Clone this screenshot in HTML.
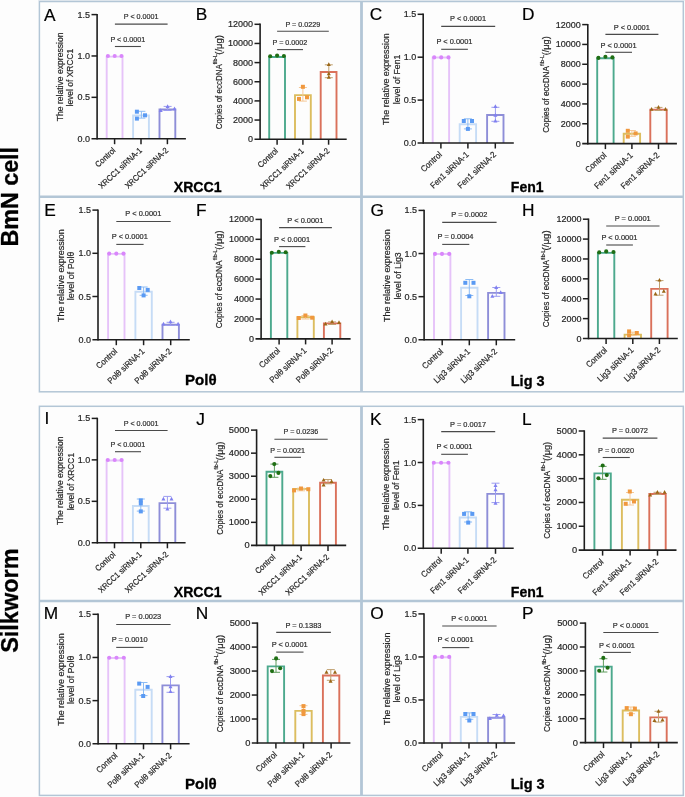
<!DOCTYPE html><html><head><meta charset="utf-8"><style>html,body{margin:0;padding:0;background:#fdfdfd;overflow:hidden}svg{display:block;will-change:transform}text{font-family:"Liberation Sans", sans-serif;}</style></head><body>
<svg width="685" height="797" viewBox="0 0 685 797">
<rect width="685" height="797" fill="#fdfdfd"/>
<rect x="38" y="0" width="647" height="0.8" fill="#e6ecf1"/>
<rect x="39.4" y="1.5" width="643.9" height="390.3" fill="none" stroke="#b3c6d6" stroke-width="1.5"/>
<line x1="39.40" y1="196.80" x2="683.30" y2="196.80" stroke="#b3c6d6" stroke-width="2.4"/>
<line x1="361.50" y1="1.50" x2="361.50" y2="391.80" stroke="#b3c6d6" stroke-width="2.8"/>
<rect x="39.4" y="406.3" width="643.9" height="389.1" fill="none" stroke="#b3c6d6" stroke-width="1.5"/>
<line x1="39.40" y1="601.00" x2="683.30" y2="601.00" stroke="#b3c6d6" stroke-width="2.4"/>
<line x1="361.50" y1="406.30" x2="361.50" y2="795.40" stroke="#b3c6d6" stroke-width="2.8"/>
<text transform="translate(17.90,246.43) rotate(-90)" font-size="23.5" font-weight="bold" fill="#000" stroke="#000" stroke-width="0.3" textLength="99.47" lengthAdjust="spacingAndGlyphs">BmN cell</text>
<text transform="translate(18.30,652.86) rotate(-90)" font-size="23.5" font-weight="bold" fill="#000" stroke="#000" stroke-width="0.3" textLength="104.49" lengthAdjust="spacingAndGlyphs">Silkworm</text>
<path d="M106.70,138.70 V56.60 H122.50 V138.70" fill="none" stroke="#e6c3f9" stroke-width="1.9"/>
<path d="M133.10,138.70 V115.50 H148.90 V138.70" fill="none" stroke="#c6dcf6" stroke-width="1.9"/>
<path d="M159.50,138.70 V109.50 H175.30 V138.70" fill="none" stroke="#8e8ed8" stroke-width="1.9"/>
<line x1="141.40" y1="111.30" x2="141.40" y2="118.10" stroke="#8cbcf5" stroke-width="1.0"/>
<line x1="137.40" y1="111.30" x2="145.40" y2="111.30" stroke="#8cbcf5" stroke-width="1.0"/>
<line x1="137.40" y1="118.10" x2="145.40" y2="118.10" stroke="#8cbcf5" stroke-width="1.0"/>
<line x1="167.60" y1="106.40" x2="167.60" y2="110.50" stroke="#9c9cf0" stroke-width="1.0"/>
<line x1="163.60" y1="106.40" x2="171.60" y2="106.40" stroke="#9c9cf0" stroke-width="1.0"/>
<line x1="163.60" y1="110.50" x2="171.60" y2="110.50" stroke="#9c9cf0" stroke-width="1.0"/>
<circle cx="107.90" cy="56.00" r="2.05" fill="#d986fb"/>
<circle cx="114.70" cy="56.00" r="2.05" fill="#d986fb"/>
<circle cx="121.50" cy="56.00" r="2.05" fill="#d986fb"/>
<rect x="134.90" y="109.70" width="4.00" height="4.00" fill="#5a9af3"/>
<rect x="143.00" y="113.30" width="4.00" height="4.00" fill="#5a9af3"/>
<rect x="134.90" y="116.60" width="4.00" height="4.00" fill="#5a9af3"/>
<polygon points="167.60,104.30 169.60,108.00 165.60,108.00" fill="#8080f0"/>
<polygon points="160.70,108.30 162.70,112.00 158.70,112.00" fill="#8080f0"/>
<polygon points="174.50,106.50 176.50,110.20 172.50,110.20" fill="#8080f0"/>
<line x1="97.10" y1="13.90" x2="97.10" y2="139.50" stroke="#1e1e1e" stroke-width="1.6"/>
<line x1="91.50" y1="138.70" x2="185.90" y2="138.70" stroke="#1e1e1e" stroke-width="1.6"/>
<text x="77.53" y="141.70" font-size="9.0" font-weight="normal" fill="#262626" stroke="#262626" stroke-width="0.2" textLength="12.51" lengthAdjust="spacingAndGlyphs">0.0</text>
<line x1="91.50" y1="97.33" x2="97.10" y2="97.33" stroke="#1e1e1e" stroke-width="1.5"/>
<text x="77.56" y="100.33" font-size="9.0" font-weight="normal" fill="#262626" stroke="#262626" stroke-width="0.2" textLength="12.51" lengthAdjust="spacingAndGlyphs">0.5</text>
<line x1="91.50" y1="55.97" x2="97.10" y2="55.97" stroke="#1e1e1e" stroke-width="1.5"/>
<text x="77.53" y="58.97" font-size="9.0" font-weight="normal" fill="#262626" stroke="#262626" stroke-width="0.2" textLength="12.51" lengthAdjust="spacingAndGlyphs">1.0</text>
<line x1="91.50" y1="14.60" x2="97.10" y2="14.60" stroke="#1e1e1e" stroke-width="1.5"/>
<text x="77.56" y="17.60" font-size="9.0" font-weight="normal" fill="#262626" stroke="#262626" stroke-width="0.2" textLength="12.51" lengthAdjust="spacingAndGlyphs">1.5</text>
<line x1="114.60" y1="138.70" x2="114.60" y2="144.20" stroke="#1e1e1e" stroke-width="1.5"/>
<line x1="141.00" y1="138.70" x2="141.00" y2="144.20" stroke="#1e1e1e" stroke-width="1.5"/>
<line x1="167.40" y1="138.70" x2="167.40" y2="144.20" stroke="#1e1e1e" stroke-width="1.5"/>
<text transform="translate(116.10,151.10) rotate(-43)" font-size="8.28" text-anchor="end" fill="#262626" stroke="#262626" stroke-width="0.2" textLength="24.29" lengthAdjust="spacingAndGlyphs">Control</text>
<text transform="translate(142.50,151.10) rotate(-43)" font-size="8.28" text-anchor="end" fill="#262626" stroke="#262626" stroke-width="0.2" textLength="55.68" lengthAdjust="spacingAndGlyphs">XRCC1 siRNA-1</text>
<text transform="translate(168.90,151.10) rotate(-43)" font-size="8.28" text-anchor="end" fill="#262626" stroke="#262626" stroke-width="0.2" textLength="55.68" lengthAdjust="spacingAndGlyphs">XRCC1 siRNA-2</text>
<line x1="114.90" y1="24.10" x2="167.60" y2="24.10" stroke="#4a4a4a" stroke-width="1.1"/>
<text x="123.76" y="19.20" font-size="7.27" font-weight="normal" fill="#2e2e2e" stroke="#2e2e2e" stroke-width="0.2" textLength="34.73" lengthAdjust="spacingAndGlyphs">P &lt; 0.0001</text>
<line x1="114.90" y1="46.50" x2="140.90" y2="46.50" stroke="#4a4a4a" stroke-width="1.1"/>
<text x="110.41" y="41.50" font-size="7.27" font-weight="normal" fill="#2e2e2e" stroke="#2e2e2e" stroke-width="0.2" textLength="34.73" lengthAdjust="spacingAndGlyphs">P &lt; 0.0001</text>
<text transform="translate(62.60,121.29) rotate(-90)" font-size="8.91" font-weight="normal" fill="#262626" stroke="#262626" stroke-width="0.2" textLength="88.84" lengthAdjust="spacingAndGlyphs">The relative expression</text>
<text transform="translate(72.80,106.47) rotate(-90)" font-size="8.91" font-weight="normal" fill="#262626" stroke="#262626" stroke-width="0.2" textLength="57.77" lengthAdjust="spacingAndGlyphs">level of XRCC1</text>
<text x="44.12" y="20.90" font-size="17.3" font-weight="normal" fill="#000" stroke="#000" stroke-width="0.2" textLength="11.54" lengthAdjust="spacingAndGlyphs">A</text>
<path d="M269.20,139.20 V57.00 H285.00 V139.20" fill="none" stroke="#4ca98d" stroke-width="1.9"/>
<path d="M295.00,139.20 V95.10 H310.80 V139.20" fill="none" stroke="#dcbd5f" stroke-width="1.9"/>
<path d="M320.70,139.20 V72.00 H336.50 V139.20" fill="none" stroke="#da715b" stroke-width="1.9"/>
<line x1="302.90" y1="87.50" x2="302.90" y2="101.10" stroke="#f5c896" stroke-width="1.0"/>
<line x1="298.90" y1="87.50" x2="306.90" y2="87.50" stroke="#f5c896" stroke-width="1.0"/>
<line x1="298.90" y1="101.10" x2="306.90" y2="101.10" stroke="#f5c896" stroke-width="1.0"/>
<line x1="328.80" y1="64.80" x2="328.80" y2="77.70" stroke="#c0a070" stroke-width="1.0"/>
<line x1="324.80" y1="64.80" x2="332.80" y2="64.80" stroke="#c0a070" stroke-width="1.0"/>
<line x1="324.80" y1="77.70" x2="332.80" y2="77.70" stroke="#c0a070" stroke-width="1.0"/>
<circle cx="270.20" cy="56.30" r="2.05" fill="#1f6e14"/>
<circle cx="277.10" cy="55.60" r="2.05" fill="#1f6e14"/>
<circle cx="283.90" cy="56.00" r="2.05" fill="#1f6e14"/>
<rect x="300.90" y="84.80" width="4.00" height="4.00" fill="#f0983e"/>
<rect x="297.00" y="96.90" width="4.00" height="4.00" fill="#f0983e"/>
<rect x="305.00" y="95.30" width="4.00" height="4.00" fill="#f0983e"/>
<polygon points="328.80,62.20 330.80,65.90 326.80,65.90" fill="#9a6616"/>
<polygon points="328.80,71.50 330.80,75.20 326.80,75.20" fill="#9a6616"/>
<polygon points="328.80,75.00 330.80,78.70 326.80,78.70" fill="#9a6616"/>
<line x1="260.10" y1="23.60" x2="260.10" y2="140.00" stroke="#1e1e1e" stroke-width="1.6"/>
<line x1="254.50" y1="139.20" x2="346.70" y2="139.20" stroke="#1e1e1e" stroke-width="1.6"/>
<text x="248.04" y="142.20" font-size="9.0" font-weight="normal" fill="#262626" stroke="#262626" stroke-width="0.2" textLength="5.01" lengthAdjust="spacingAndGlyphs">0</text>
<line x1="254.50" y1="120.05" x2="260.10" y2="120.05" stroke="#1e1e1e" stroke-width="1.5"/>
<text x="233.03" y="123.05" font-size="9.0" font-weight="normal" fill="#262626" stroke="#262626" stroke-width="0.2" textLength="20.02" lengthAdjust="spacingAndGlyphs">2000</text>
<line x1="254.50" y1="100.90" x2="260.10" y2="100.90" stroke="#1e1e1e" stroke-width="1.5"/>
<text x="233.03" y="103.90" font-size="9.0" font-weight="normal" fill="#262626" stroke="#262626" stroke-width="0.2" textLength="20.02" lengthAdjust="spacingAndGlyphs">4000</text>
<line x1="254.50" y1="81.75" x2="260.10" y2="81.75" stroke="#1e1e1e" stroke-width="1.5"/>
<text x="233.03" y="84.75" font-size="9.0" font-weight="normal" fill="#262626" stroke="#262626" stroke-width="0.2" textLength="20.02" lengthAdjust="spacingAndGlyphs">6000</text>
<line x1="254.50" y1="62.60" x2="260.10" y2="62.60" stroke="#1e1e1e" stroke-width="1.5"/>
<text x="233.03" y="65.60" font-size="9.0" font-weight="normal" fill="#262626" stroke="#262626" stroke-width="0.2" textLength="20.02" lengthAdjust="spacingAndGlyphs">8000</text>
<line x1="254.50" y1="43.45" x2="260.10" y2="43.45" stroke="#1e1e1e" stroke-width="1.5"/>
<text x="228.01" y="46.45" font-size="9.0" font-weight="normal" fill="#262626" stroke="#262626" stroke-width="0.2" textLength="25.03" lengthAdjust="spacingAndGlyphs">10000</text>
<line x1="254.50" y1="24.30" x2="260.10" y2="24.30" stroke="#1e1e1e" stroke-width="1.5"/>
<text x="228.01" y="27.30" font-size="9.0" font-weight="normal" fill="#262626" stroke="#262626" stroke-width="0.2" textLength="25.03" lengthAdjust="spacingAndGlyphs">12000</text>
<line x1="277.10" y1="139.20" x2="277.10" y2="144.70" stroke="#1e1e1e" stroke-width="1.5"/>
<line x1="302.90" y1="139.20" x2="302.90" y2="144.70" stroke="#1e1e1e" stroke-width="1.5"/>
<line x1="328.60" y1="139.20" x2="328.60" y2="144.70" stroke="#1e1e1e" stroke-width="1.5"/>
<text transform="translate(278.60,151.60) rotate(-43)" font-size="8.28" text-anchor="end" fill="#262626" stroke="#262626" stroke-width="0.2" textLength="24.29" lengthAdjust="spacingAndGlyphs">Control</text>
<text transform="translate(304.40,151.60) rotate(-43)" font-size="8.28" text-anchor="end" fill="#262626" stroke="#262626" stroke-width="0.2" textLength="55.68" lengthAdjust="spacingAndGlyphs">XRCC1 siRNA-1</text>
<text transform="translate(330.10,151.60) rotate(-43)" font-size="8.28" text-anchor="end" fill="#262626" stroke="#262626" stroke-width="0.2" textLength="55.68" lengthAdjust="spacingAndGlyphs">XRCC1 siRNA-2</text>
<line x1="277.10" y1="31.30" x2="328.80" y2="31.30" stroke="#4a4a4a" stroke-width="1.1"/>
<text x="285.46" y="27.10" font-size="7.27" font-weight="normal" fill="#2e2e2e" stroke="#2e2e2e" stroke-width="0.2" textLength="34.73" lengthAdjust="spacingAndGlyphs">P = 0.0229</text>
<line x1="277.10" y1="49.60" x2="303.00" y2="49.60" stroke="#4a4a4a" stroke-width="1.1"/>
<text x="272.56" y="45.20" font-size="7.27" font-weight="normal" fill="#2e2e2e" stroke="#2e2e2e" stroke-width="0.2" textLength="34.75" lengthAdjust="spacingAndGlyphs">P = 0.0002</text>
<text transform="translate(222.20,129.30) rotate(-90)" font-size="9.6" font-weight="normal" fill="#262626" stroke="#262626" stroke-width="0.2" textLength="65.01" lengthAdjust="spacingAndGlyphs">Copies of eccDNA</text>
<text transform="translate(217.30,64.17) rotate(-90)" font-size="5.8" font-weight="normal" fill="#262626" stroke="#262626" stroke-width="0.2" textLength="9.94" lengthAdjust="spacingAndGlyphs">fib-L</text>
<text transform="translate(222.20,54.69) rotate(-90)" font-size="9.3" font-weight="normal" fill="#262626" stroke="#262626" stroke-width="0.2" textLength="19.68" lengthAdjust="spacingAndGlyphs">(/μg)</text>
<text x="195.68" y="20.40" font-size="17.3" font-weight="normal" fill="#000" stroke="#000" stroke-width="0.2" textLength="11.54" lengthAdjust="spacingAndGlyphs">B</text>
<path d="M432.70,143.00 V57.50 H449.10 V143.00" fill="none" stroke="#e6c3f9" stroke-width="1.9"/>
<path d="M459.70,143.00 V124.30 H476.10 V143.00" fill="none" stroke="#c6dcf6" stroke-width="1.9"/>
<path d="M487.10,143.00 V115.00 H503.50 V143.00" fill="none" stroke="#8e8ed8" stroke-width="1.9"/>
<line x1="467.90" y1="118.80" x2="467.90" y2="128.90" stroke="#8cbcf5" stroke-width="1.0"/>
<line x1="463.90" y1="118.80" x2="471.90" y2="118.80" stroke="#8cbcf5" stroke-width="1.0"/>
<line x1="463.90" y1="128.90" x2="471.90" y2="128.90" stroke="#8cbcf5" stroke-width="1.0"/>
<line x1="495.40" y1="107.30" x2="495.40" y2="121.30" stroke="#9c9cf0" stroke-width="1.0"/>
<line x1="491.40" y1="107.30" x2="499.40" y2="107.30" stroke="#9c9cf0" stroke-width="1.0"/>
<line x1="491.40" y1="121.30" x2="499.40" y2="121.30" stroke="#9c9cf0" stroke-width="1.0"/>
<circle cx="434.20" cy="57.40" r="2.05" fill="#d986fb"/>
<circle cx="441.20" cy="57.40" r="2.05" fill="#d986fb"/>
<circle cx="448.50" cy="57.40" r="2.05" fill="#d986fb"/>
<rect x="461.80" y="119.00" width="4.00" height="4.00" fill="#5a9af3"/>
<rect x="470.00" y="119.00" width="4.00" height="4.00" fill="#5a9af3"/>
<rect x="465.90" y="126.90" width="4.00" height="4.00" fill="#5a9af3"/>
<polygon points="495.40,104.30 497.40,108.00 493.40,108.00" fill="#8080f0"/>
<polygon points="495.40,113.10 497.40,116.80 493.40,116.80" fill="#8080f0"/>
<polygon points="495.40,118.80 497.40,122.50 493.40,122.50" fill="#8080f0"/>
<line x1="423.20" y1="13.60" x2="423.20" y2="143.80" stroke="#1e1e1e" stroke-width="1.6"/>
<line x1="417.60" y1="143.00" x2="513.80" y2="143.00" stroke="#1e1e1e" stroke-width="1.6"/>
<text x="403.63" y="146.00" font-size="9.0" font-weight="normal" fill="#262626" stroke="#262626" stroke-width="0.2" textLength="12.51" lengthAdjust="spacingAndGlyphs">0.0</text>
<line x1="417.60" y1="100.10" x2="423.20" y2="100.10" stroke="#1e1e1e" stroke-width="1.5"/>
<text x="403.66" y="103.10" font-size="9.0" font-weight="normal" fill="#262626" stroke="#262626" stroke-width="0.2" textLength="12.51" lengthAdjust="spacingAndGlyphs">0.5</text>
<line x1="417.60" y1="57.20" x2="423.20" y2="57.20" stroke="#1e1e1e" stroke-width="1.5"/>
<text x="403.63" y="60.20" font-size="9.0" font-weight="normal" fill="#262626" stroke="#262626" stroke-width="0.2" textLength="12.51" lengthAdjust="spacingAndGlyphs">1.0</text>
<line x1="417.60" y1="14.30" x2="423.20" y2="14.30" stroke="#1e1e1e" stroke-width="1.5"/>
<text x="403.66" y="17.30" font-size="9.0" font-weight="normal" fill="#262626" stroke="#262626" stroke-width="0.2" textLength="12.51" lengthAdjust="spacingAndGlyphs">1.5</text>
<line x1="440.90" y1="143.00" x2="440.90" y2="148.50" stroke="#1e1e1e" stroke-width="1.5"/>
<line x1="467.90" y1="143.00" x2="467.90" y2="148.50" stroke="#1e1e1e" stroke-width="1.5"/>
<line x1="495.30" y1="143.00" x2="495.30" y2="148.50" stroke="#1e1e1e" stroke-width="1.5"/>
<text transform="translate(442.40,155.40) rotate(-43)" font-size="8.6" text-anchor="end" fill="#262626" stroke="#262626" stroke-width="0.2" textLength="25.23" lengthAdjust="spacingAndGlyphs">Control</text>
<text transform="translate(469.40,155.40) rotate(-43)" font-size="8.6" text-anchor="end" fill="#262626" stroke="#262626" stroke-width="0.2" textLength="49.15" lengthAdjust="spacingAndGlyphs">Fen1 siRNA-1</text>
<text transform="translate(496.80,155.40) rotate(-43)" font-size="8.6" text-anchor="end" fill="#262626" stroke="#262626" stroke-width="0.2" textLength="49.15" lengthAdjust="spacingAndGlyphs">Fen1 siRNA-2</text>
<line x1="441.20" y1="26.40" x2="495.20" y2="26.40" stroke="#4a4a4a" stroke-width="1.1"/>
<text x="450.04" y="21.00" font-size="7.55" font-weight="normal" fill="#2e2e2e" stroke="#2e2e2e" stroke-width="0.2" textLength="36.07" lengthAdjust="spacingAndGlyphs">P &lt; 0.0001</text>
<line x1="441.20" y1="49.30" x2="467.90" y2="49.30" stroke="#4a4a4a" stroke-width="1.1"/>
<text x="436.39" y="44.30" font-size="7.55" font-weight="normal" fill="#2e2e2e" stroke="#2e2e2e" stroke-width="0.2" textLength="36.07" lengthAdjust="spacingAndGlyphs">P &lt; 0.0001</text>
<text transform="translate(388.70,125.10) rotate(-90)" font-size="9.21" font-weight="normal" fill="#262626" stroke="#262626" stroke-width="0.2" textLength="91.87" lengthAdjust="spacingAndGlyphs">The relative expression</text>
<text transform="translate(399.60,104.28) rotate(-90)" font-size="9.21" font-weight="normal" fill="#262626" stroke="#262626" stroke-width="0.2" textLength="49.60" lengthAdjust="spacingAndGlyphs">level of Fen1</text>
<text x="369.63" y="20.40" font-size="17.3" font-weight="normal" fill="#000" stroke="#000" stroke-width="0.2" textLength="12.49" lengthAdjust="spacingAndGlyphs">C</text>
<path d="M597.20,143.60 V58.20 H613.60 V143.60" fill="none" stroke="#4ca98d" stroke-width="1.9"/>
<path d="M623.70,143.60 V133.70 H640.10 V143.60" fill="none" stroke="#dcbd5f" stroke-width="1.9"/>
<path d="M650.30,143.60 V109.60 H666.70 V143.60" fill="none" stroke="#da715b" stroke-width="1.9"/>
<line x1="631.90" y1="130.50" x2="631.90" y2="136.30" stroke="#f5c896" stroke-width="1.0"/>
<line x1="627.90" y1="130.50" x2="635.90" y2="130.50" stroke="#f5c896" stroke-width="1.0"/>
<line x1="627.90" y1="136.30" x2="635.90" y2="136.30" stroke="#f5c896" stroke-width="1.0"/>
<line x1="658.50" y1="107.40" x2="658.50" y2="110.50" stroke="#c0a070" stroke-width="1.0"/>
<line x1="654.50" y1="107.40" x2="662.50" y2="107.40" stroke="#c0a070" stroke-width="1.0"/>
<line x1="654.50" y1="110.50" x2="662.50" y2="110.50" stroke="#c0a070" stroke-width="1.0"/>
<circle cx="598.40" cy="57.90" r="2.05" fill="#1f6e14"/>
<circle cx="605.40" cy="56.70" r="2.05" fill="#1f6e14"/>
<circle cx="612.40" cy="57.40" r="2.05" fill="#1f6e14"/>
<rect x="625.80" y="128.80" width="4.00" height="4.00" fill="#f0983e"/>
<rect x="633.60" y="131.40" width="4.00" height="4.00" fill="#f0983e"/>
<rect x="625.80" y="134.60" width="4.00" height="4.00" fill="#f0983e"/>
<polygon points="651.60,107.00 653.60,110.70 649.60,110.70" fill="#9a6616"/>
<polygon points="658.50,105.10 660.50,108.80 656.50,108.80" fill="#9a6616"/>
<polygon points="665.50,107.00 667.50,110.70 663.50,110.70" fill="#9a6616"/>
<line x1="587.80" y1="23.90" x2="587.80" y2="144.40" stroke="#1e1e1e" stroke-width="1.6"/>
<line x1="582.20" y1="143.60" x2="676.90" y2="143.60" stroke="#1e1e1e" stroke-width="1.6"/>
<text x="575.74" y="146.60" font-size="9.0" font-weight="normal" fill="#262626" stroke="#262626" stroke-width="0.2" textLength="5.01" lengthAdjust="spacingAndGlyphs">0</text>
<line x1="582.20" y1="123.77" x2="587.80" y2="123.77" stroke="#1e1e1e" stroke-width="1.5"/>
<text x="560.73" y="126.77" font-size="9.0" font-weight="normal" fill="#262626" stroke="#262626" stroke-width="0.2" textLength="20.02" lengthAdjust="spacingAndGlyphs">2000</text>
<line x1="582.20" y1="103.93" x2="587.80" y2="103.93" stroke="#1e1e1e" stroke-width="1.5"/>
<text x="560.73" y="106.93" font-size="9.0" font-weight="normal" fill="#262626" stroke="#262626" stroke-width="0.2" textLength="20.02" lengthAdjust="spacingAndGlyphs">4000</text>
<line x1="582.20" y1="84.10" x2="587.80" y2="84.10" stroke="#1e1e1e" stroke-width="1.5"/>
<text x="560.73" y="87.10" font-size="9.0" font-weight="normal" fill="#262626" stroke="#262626" stroke-width="0.2" textLength="20.02" lengthAdjust="spacingAndGlyphs">6000</text>
<line x1="582.20" y1="64.27" x2="587.80" y2="64.27" stroke="#1e1e1e" stroke-width="1.5"/>
<text x="560.73" y="67.27" font-size="9.0" font-weight="normal" fill="#262626" stroke="#262626" stroke-width="0.2" textLength="20.02" lengthAdjust="spacingAndGlyphs">8000</text>
<line x1="582.20" y1="44.43" x2="587.80" y2="44.43" stroke="#1e1e1e" stroke-width="1.5"/>
<text x="555.71" y="47.43" font-size="9.0" font-weight="normal" fill="#262626" stroke="#262626" stroke-width="0.2" textLength="25.03" lengthAdjust="spacingAndGlyphs">10000</text>
<line x1="582.20" y1="24.60" x2="587.80" y2="24.60" stroke="#1e1e1e" stroke-width="1.5"/>
<text x="555.71" y="27.60" font-size="9.0" font-weight="normal" fill="#262626" stroke="#262626" stroke-width="0.2" textLength="25.03" lengthAdjust="spacingAndGlyphs">12000</text>
<line x1="605.40" y1="143.60" x2="605.40" y2="149.10" stroke="#1e1e1e" stroke-width="1.5"/>
<line x1="631.90" y1="143.60" x2="631.90" y2="149.10" stroke="#1e1e1e" stroke-width="1.5"/>
<line x1="658.50" y1="143.60" x2="658.50" y2="149.10" stroke="#1e1e1e" stroke-width="1.5"/>
<text transform="translate(606.90,156.00) rotate(-43)" font-size="8.6" text-anchor="end" fill="#262626" stroke="#262626" stroke-width="0.2" textLength="25.23" lengthAdjust="spacingAndGlyphs">Control</text>
<text transform="translate(633.40,156.00) rotate(-43)" font-size="8.6" text-anchor="end" fill="#262626" stroke="#262626" stroke-width="0.2" textLength="49.15" lengthAdjust="spacingAndGlyphs">Fen1 siRNA-1</text>
<text transform="translate(660.00,156.00) rotate(-43)" font-size="8.6" text-anchor="end" fill="#262626" stroke="#262626" stroke-width="0.2" textLength="49.15" lengthAdjust="spacingAndGlyphs">Fen1 siRNA-2</text>
<line x1="605.40" y1="34.40" x2="658.40" y2="34.40" stroke="#4a4a4a" stroke-width="1.1"/>
<text x="613.74" y="29.70" font-size="7.55" font-weight="normal" fill="#2e2e2e" stroke="#2e2e2e" stroke-width="0.2" textLength="36.07" lengthAdjust="spacingAndGlyphs">P &lt; 0.0001</text>
<line x1="605.40" y1="52.30" x2="632.00" y2="52.30" stroke="#4a4a4a" stroke-width="1.1"/>
<text x="600.54" y="47.50" font-size="7.55" font-weight="normal" fill="#2e2e2e" stroke="#2e2e2e" stroke-width="0.2" textLength="36.07" lengthAdjust="spacingAndGlyphs">P &lt; 0.0001</text>
<text transform="translate(548.90,132.81) rotate(-90)" font-size="9.6" font-weight="normal" fill="#262626" stroke="#262626" stroke-width="0.2" textLength="66.72" lengthAdjust="spacingAndGlyphs">Copies of eccDNA</text>
<text transform="translate(544.00,65.98) rotate(-90)" font-size="5.8" font-weight="normal" fill="#262626" stroke="#262626" stroke-width="0.2" textLength="11.07" lengthAdjust="spacingAndGlyphs">fib-L</text>
<text transform="translate(548.90,55.37) rotate(-90)" font-size="9.3" font-weight="normal" fill="#262626" stroke="#262626" stroke-width="0.2" textLength="19.15" lengthAdjust="spacingAndGlyphs">(/μg)</text>
<text x="521.98" y="20.40" font-size="17.3" font-weight="normal" fill="#000" stroke="#000" stroke-width="0.2" textLength="12.49" lengthAdjust="spacingAndGlyphs">D</text>
<path d="M108.10,339.70 V253.90 H124.50 V339.70" fill="none" stroke="#e6c3f9" stroke-width="1.9"/>
<path d="M135.40,339.70 V291.80 H151.80 V339.70" fill="none" stroke="#c6dcf6" stroke-width="1.9"/>
<path d="M162.50,339.70 V324.80 H178.90 V339.70" fill="none" stroke="#8e8ed8" stroke-width="1.9"/>
<line x1="143.60" y1="287.00" x2="143.60" y2="295.30" stroke="#8cbcf5" stroke-width="1.0"/>
<line x1="139.60" y1="287.00" x2="147.60" y2="287.00" stroke="#8cbcf5" stroke-width="1.0"/>
<line x1="139.60" y1="295.30" x2="147.60" y2="295.30" stroke="#8cbcf5" stroke-width="1.0"/>
<line x1="170.60" y1="322.30" x2="170.60" y2="325.50" stroke="#9c9cf0" stroke-width="1.0"/>
<line x1="166.60" y1="322.30" x2="174.60" y2="322.30" stroke="#9c9cf0" stroke-width="1.0"/>
<line x1="166.60" y1="325.50" x2="174.60" y2="325.50" stroke="#9c9cf0" stroke-width="1.0"/>
<circle cx="109.20" cy="253.60" r="2.05" fill="#d986fb"/>
<circle cx="116.30" cy="253.60" r="2.05" fill="#d986fb"/>
<circle cx="123.50" cy="253.60" r="2.05" fill="#d986fb"/>
<rect x="137.30" y="286.00" width="4.00" height="4.00" fill="#5a9af3"/>
<rect x="145.70" y="287.90" width="4.00" height="4.00" fill="#5a9af3"/>
<rect x="141.60" y="293.40" width="4.00" height="4.00" fill="#5a9af3"/>
<polygon points="163.50,321.80 165.50,325.50 161.50,325.50" fill="#8080f0"/>
<polygon points="170.50,319.60 172.50,323.30 168.50,323.30" fill="#8080f0"/>
<polygon points="178.10,321.80 180.10,325.50 176.10,325.50" fill="#8080f0"/>
<line x1="98.00" y1="209.40" x2="98.00" y2="340.50" stroke="#1e1e1e" stroke-width="1.6"/>
<line x1="92.40" y1="339.70" x2="189.80" y2="339.70" stroke="#1e1e1e" stroke-width="1.6"/>
<text x="78.43" y="342.70" font-size="9.0" font-weight="normal" fill="#262626" stroke="#262626" stroke-width="0.2" textLength="12.51" lengthAdjust="spacingAndGlyphs">0.0</text>
<line x1="92.40" y1="296.50" x2="98.00" y2="296.50" stroke="#1e1e1e" stroke-width="1.5"/>
<text x="78.46" y="299.50" font-size="9.0" font-weight="normal" fill="#262626" stroke="#262626" stroke-width="0.2" textLength="12.51" lengthAdjust="spacingAndGlyphs">0.5</text>
<line x1="92.40" y1="253.30" x2="98.00" y2="253.30" stroke="#1e1e1e" stroke-width="1.5"/>
<text x="78.43" y="256.30" font-size="9.0" font-weight="normal" fill="#262626" stroke="#262626" stroke-width="0.2" textLength="12.51" lengthAdjust="spacingAndGlyphs">1.0</text>
<line x1="92.40" y1="210.10" x2="98.00" y2="210.10" stroke="#1e1e1e" stroke-width="1.5"/>
<text x="78.46" y="213.10" font-size="9.0" font-weight="normal" fill="#262626" stroke="#262626" stroke-width="0.2" textLength="12.51" lengthAdjust="spacingAndGlyphs">1.5</text>
<line x1="116.30" y1="339.70" x2="116.30" y2="345.20" stroke="#1e1e1e" stroke-width="1.5"/>
<line x1="143.60" y1="339.70" x2="143.60" y2="345.20" stroke="#1e1e1e" stroke-width="1.5"/>
<line x1="170.70" y1="339.70" x2="170.70" y2="345.20" stroke="#1e1e1e" stroke-width="1.5"/>
<text transform="translate(117.80,352.10) rotate(-43)" font-size="8.6" text-anchor="end" fill="#262626" stroke="#262626" stroke-width="0.2" textLength="25.23" lengthAdjust="spacingAndGlyphs">Control</text>
<text transform="translate(145.10,352.10) rotate(-43)" font-size="8.6" text-anchor="end" fill="#262626" stroke="#262626" stroke-width="0.2" textLength="46.97" lengthAdjust="spacingAndGlyphs">Polθ siRNA-1</text>
<text transform="translate(172.20,352.10) rotate(-43)" font-size="8.6" text-anchor="end" fill="#262626" stroke="#262626" stroke-width="0.2" textLength="46.97" lengthAdjust="spacingAndGlyphs">Polθ siRNA-2</text>
<line x1="116.30" y1="221.50" x2="170.70" y2="221.50" stroke="#4a4a4a" stroke-width="1.1"/>
<text x="125.34" y="216.30" font-size="7.55" font-weight="normal" fill="#2e2e2e" stroke="#2e2e2e" stroke-width="0.2" textLength="36.07" lengthAdjust="spacingAndGlyphs">P &lt; 0.0001</text>
<line x1="116.30" y1="244.40" x2="143.60" y2="244.40" stroke="#4a4a4a" stroke-width="1.1"/>
<text x="111.79" y="239.00" font-size="7.55" font-weight="normal" fill="#2e2e2e" stroke="#2e2e2e" stroke-width="0.2" textLength="36.07" lengthAdjust="spacingAndGlyphs">P &lt; 0.0001</text>
<text transform="translate(63.70,322.00) rotate(-90)" font-size="9.3" font-weight="normal" fill="#262626" stroke="#262626" stroke-width="0.2" textLength="92.78" lengthAdjust="spacingAndGlyphs">The relative expression</text>
<text transform="translate(74.30,300.20) rotate(-90)" font-size="9.3" font-weight="normal" fill="#262626" stroke="#262626" stroke-width="0.2" textLength="48.75" lengthAdjust="spacingAndGlyphs">level of Polθ</text>
<text x="44.18" y="216.00" font-size="17.3" font-weight="normal" fill="#000" stroke="#000" stroke-width="0.2" textLength="11.54" lengthAdjust="spacingAndGlyphs">E</text>
<path d="M270.90,338.90 V252.90 H287.30 V338.90" fill="none" stroke="#4ca98d" stroke-width="1.9"/>
<path d="M297.40,338.90 V317.20 H313.80 V338.90" fill="none" stroke="#dcbd5f" stroke-width="1.9"/>
<path d="M323.90,338.90 V323.40 H340.30 V338.90" fill="none" stroke="#da715b" stroke-width="1.9"/>
<line x1="305.50" y1="315.50" x2="305.50" y2="319.00" stroke="#f5c896" stroke-width="1.0"/>
<line x1="301.50" y1="315.50" x2="309.50" y2="315.50" stroke="#f5c896" stroke-width="1.0"/>
<line x1="301.50" y1="319.00" x2="309.50" y2="319.00" stroke="#f5c896" stroke-width="1.0"/>
<line x1="332.10" y1="321.90" x2="332.10" y2="324.50" stroke="#c0a070" stroke-width="1.0"/>
<line x1="328.10" y1="321.90" x2="336.10" y2="321.90" stroke="#c0a070" stroke-width="1.0"/>
<line x1="328.10" y1="324.50" x2="336.10" y2="324.50" stroke="#c0a070" stroke-width="1.0"/>
<circle cx="271.80" cy="252.70" r="2.05" fill="#1f6e14"/>
<circle cx="278.80" cy="251.70" r="2.05" fill="#1f6e14"/>
<circle cx="285.70" cy="252.20" r="2.05" fill="#1f6e14"/>
<rect x="296.80" y="316.00" width="4.00" height="4.00" fill="#f0983e"/>
<rect x="303.40" y="313.50" width="4.00" height="4.00" fill="#f0983e"/>
<rect x="310.20" y="315.70" width="4.00" height="4.00" fill="#f0983e"/>
<polygon points="325.50,321.80 327.50,325.50 323.50,325.50" fill="#9a6616"/>
<polygon points="332.10,319.60 334.10,323.30 330.10,323.30" fill="#9a6616"/>
<polygon points="339.00,320.30 341.00,324.00 337.00,324.00" fill="#9a6616"/>
<line x1="261.10" y1="218.70" x2="261.10" y2="339.70" stroke="#1e1e1e" stroke-width="1.6"/>
<line x1="255.50" y1="338.90" x2="350.60" y2="338.90" stroke="#1e1e1e" stroke-width="1.6"/>
<text x="249.04" y="341.90" font-size="9.0" font-weight="normal" fill="#262626" stroke="#262626" stroke-width="0.2" textLength="5.01" lengthAdjust="spacingAndGlyphs">0</text>
<line x1="255.50" y1="318.98" x2="261.10" y2="318.98" stroke="#1e1e1e" stroke-width="1.5"/>
<text x="234.03" y="321.98" font-size="9.0" font-weight="normal" fill="#262626" stroke="#262626" stroke-width="0.2" textLength="20.02" lengthAdjust="spacingAndGlyphs">2000</text>
<line x1="255.50" y1="299.07" x2="261.10" y2="299.07" stroke="#1e1e1e" stroke-width="1.5"/>
<text x="234.03" y="302.07" font-size="9.0" font-weight="normal" fill="#262626" stroke="#262626" stroke-width="0.2" textLength="20.02" lengthAdjust="spacingAndGlyphs">4000</text>
<line x1="255.50" y1="279.15" x2="261.10" y2="279.15" stroke="#1e1e1e" stroke-width="1.5"/>
<text x="234.03" y="282.15" font-size="9.0" font-weight="normal" fill="#262626" stroke="#262626" stroke-width="0.2" textLength="20.02" lengthAdjust="spacingAndGlyphs">6000</text>
<line x1="255.50" y1="259.23" x2="261.10" y2="259.23" stroke="#1e1e1e" stroke-width="1.5"/>
<text x="234.03" y="262.23" font-size="9.0" font-weight="normal" fill="#262626" stroke="#262626" stroke-width="0.2" textLength="20.02" lengthAdjust="spacingAndGlyphs">8000</text>
<line x1="255.50" y1="239.32" x2="261.10" y2="239.32" stroke="#1e1e1e" stroke-width="1.5"/>
<text x="229.01" y="242.32" font-size="9.0" font-weight="normal" fill="#262626" stroke="#262626" stroke-width="0.2" textLength="25.03" lengthAdjust="spacingAndGlyphs">10000</text>
<line x1="255.50" y1="219.40" x2="261.10" y2="219.40" stroke="#1e1e1e" stroke-width="1.5"/>
<text x="229.01" y="222.40" font-size="9.0" font-weight="normal" fill="#262626" stroke="#262626" stroke-width="0.2" textLength="25.03" lengthAdjust="spacingAndGlyphs">12000</text>
<line x1="279.10" y1="338.90" x2="279.10" y2="344.40" stroke="#1e1e1e" stroke-width="1.5"/>
<line x1="305.60" y1="338.90" x2="305.60" y2="344.40" stroke="#1e1e1e" stroke-width="1.5"/>
<line x1="332.10" y1="338.90" x2="332.10" y2="344.40" stroke="#1e1e1e" stroke-width="1.5"/>
<text transform="translate(280.60,351.30) rotate(-43)" font-size="8.6" text-anchor="end" fill="#262626" stroke="#262626" stroke-width="0.2" textLength="25.23" lengthAdjust="spacingAndGlyphs">Control</text>
<text transform="translate(307.10,351.30) rotate(-43)" font-size="8.6" text-anchor="end" fill="#262626" stroke="#262626" stroke-width="0.2" textLength="46.97" lengthAdjust="spacingAndGlyphs">Polθ siRNA-1</text>
<text transform="translate(333.60,351.30) rotate(-43)" font-size="8.6" text-anchor="end" fill="#262626" stroke="#262626" stroke-width="0.2" textLength="46.97" lengthAdjust="spacingAndGlyphs">Polθ siRNA-2</text>
<line x1="279.10" y1="227.60" x2="331.90" y2="227.60" stroke="#4a4a4a" stroke-width="1.1"/>
<text x="287.34" y="222.80" font-size="7.55" font-weight="normal" fill="#2e2e2e" stroke="#2e2e2e" stroke-width="0.2" textLength="36.07" lengthAdjust="spacingAndGlyphs">P &lt; 0.0001</text>
<line x1="279.10" y1="246.60" x2="305.40" y2="246.60" stroke="#4a4a4a" stroke-width="1.1"/>
<text x="274.09" y="241.80" font-size="7.55" font-weight="normal" fill="#2e2e2e" stroke="#2e2e2e" stroke-width="0.2" textLength="36.07" lengthAdjust="spacingAndGlyphs">P &lt; 0.0001</text>
<text transform="translate(222.20,328.32) rotate(-90)" font-size="9.6" font-weight="normal" fill="#262626" stroke="#262626" stroke-width="0.2" textLength="67.93" lengthAdjust="spacingAndGlyphs">Copies of eccDNA</text>
<text transform="translate(217.30,260.28) rotate(-90)" font-size="5.8" font-weight="normal" fill="#262626" stroke="#262626" stroke-width="0.2" textLength="11.07" lengthAdjust="spacingAndGlyphs">fib-L</text>
<text transform="translate(222.20,249.67) rotate(-90)" font-size="9.3" font-weight="normal" fill="#262626" stroke="#262626" stroke-width="0.2" textLength="19.25" lengthAdjust="spacingAndGlyphs">(/μg)</text>
<text x="196.08" y="215.70" font-size="17.3" font-weight="normal" fill="#000" stroke="#000" stroke-width="0.2" textLength="10.57" lengthAdjust="spacingAndGlyphs">F</text>
<path d="M434.00,339.80 V254.00 H450.40 V339.80" fill="none" stroke="#e6c3f9" stroke-width="1.9"/>
<path d="M461.10,339.80 V287.80 H477.50 V339.80" fill="none" stroke="#c6dcf6" stroke-width="1.9"/>
<path d="M488.10,339.80 V292.90 H504.50 V339.80" fill="none" stroke="#8e8ed8" stroke-width="1.9"/>
<line x1="469.30" y1="279.50" x2="469.30" y2="295.50" stroke="#8cbcf5" stroke-width="1.0"/>
<line x1="465.30" y1="279.50" x2="473.30" y2="279.50" stroke="#8cbcf5" stroke-width="1.0"/>
<line x1="465.30" y1="295.50" x2="473.30" y2="295.50" stroke="#8cbcf5" stroke-width="1.0"/>
<line x1="496.30" y1="287.50" x2="496.30" y2="296.30" stroke="#9c9cf0" stroke-width="1.0"/>
<line x1="492.30" y1="287.50" x2="500.30" y2="287.50" stroke="#9c9cf0" stroke-width="1.0"/>
<line x1="492.30" y1="296.30" x2="500.30" y2="296.30" stroke="#9c9cf0" stroke-width="1.0"/>
<circle cx="435.00" cy="253.90" r="2.05" fill="#d986fb"/>
<circle cx="442.00" cy="253.90" r="2.05" fill="#d986fb"/>
<circle cx="449.20" cy="253.90" r="2.05" fill="#d986fb"/>
<rect x="463.30" y="280.80" width="4.00" height="4.00" fill="#5a9af3"/>
<rect x="471.50" y="280.80" width="4.00" height="4.00" fill="#5a9af3"/>
<rect x="467.30" y="294.30" width="4.00" height="4.00" fill="#5a9af3"/>
<polygon points="496.20,285.20 498.20,288.90 494.20,288.90" fill="#8080f0"/>
<polygon points="500.70,290.30 502.70,294.00 498.70,294.00" fill="#8080f0"/>
<polygon points="492.30,294.00 494.30,297.70 490.30,297.70" fill="#8080f0"/>
<line x1="424.10" y1="209.70" x2="424.10" y2="340.60" stroke="#1e1e1e" stroke-width="1.6"/>
<line x1="418.50" y1="339.80" x2="515.20" y2="339.80" stroke="#1e1e1e" stroke-width="1.6"/>
<text x="404.53" y="342.80" font-size="9.0" font-weight="normal" fill="#262626" stroke="#262626" stroke-width="0.2" textLength="12.51" lengthAdjust="spacingAndGlyphs">0.0</text>
<line x1="418.50" y1="296.67" x2="424.10" y2="296.67" stroke="#1e1e1e" stroke-width="1.5"/>
<text x="404.56" y="299.67" font-size="9.0" font-weight="normal" fill="#262626" stroke="#262626" stroke-width="0.2" textLength="12.51" lengthAdjust="spacingAndGlyphs">0.5</text>
<line x1="418.50" y1="253.53" x2="424.10" y2="253.53" stroke="#1e1e1e" stroke-width="1.5"/>
<text x="404.53" y="256.53" font-size="9.0" font-weight="normal" fill="#262626" stroke="#262626" stroke-width="0.2" textLength="12.51" lengthAdjust="spacingAndGlyphs">1.0</text>
<line x1="418.50" y1="210.40" x2="424.10" y2="210.40" stroke="#1e1e1e" stroke-width="1.5"/>
<text x="404.56" y="213.40" font-size="9.0" font-weight="normal" fill="#262626" stroke="#262626" stroke-width="0.2" textLength="12.51" lengthAdjust="spacingAndGlyphs">1.5</text>
<line x1="442.20" y1="339.80" x2="442.20" y2="345.30" stroke="#1e1e1e" stroke-width="1.5"/>
<line x1="469.30" y1="339.80" x2="469.30" y2="345.30" stroke="#1e1e1e" stroke-width="1.5"/>
<line x1="496.30" y1="339.80" x2="496.30" y2="345.30" stroke="#1e1e1e" stroke-width="1.5"/>
<text transform="translate(443.70,352.20) rotate(-43)" font-size="8.6" text-anchor="end" fill="#262626" stroke="#262626" stroke-width="0.2" textLength="25.23" lengthAdjust="spacingAndGlyphs">Control</text>
<text transform="translate(470.80,352.20) rotate(-43)" font-size="8.6" text-anchor="end" fill="#262626" stroke="#262626" stroke-width="0.2" textLength="46.10" lengthAdjust="spacingAndGlyphs">Lig3 siRNA-1</text>
<text transform="translate(497.80,352.20) rotate(-43)" font-size="8.6" text-anchor="end" fill="#262626" stroke="#262626" stroke-width="0.2" textLength="46.10" lengthAdjust="spacingAndGlyphs">Lig3 siRNA-2</text>
<line x1="442.20" y1="222.40" x2="496.60" y2="222.40" stroke="#4a4a4a" stroke-width="1.1"/>
<text x="451.24" y="217.00" font-size="7.55" font-weight="normal" fill="#2e2e2e" stroke="#2e2e2e" stroke-width="0.2" textLength="36.08" lengthAdjust="spacingAndGlyphs">P = 0.0002</text>
<line x1="442.20" y1="244.40" x2="469.30" y2="244.40" stroke="#4a4a4a" stroke-width="1.1"/>
<text x="437.59" y="239.30" font-size="7.55" font-weight="normal" fill="#2e2e2e" stroke="#2e2e2e" stroke-width="0.2" textLength="35.92" lengthAdjust="spacingAndGlyphs">P = 0.0004</text>
<text transform="translate(389.70,322.00) rotate(-90)" font-size="9.3" font-weight="normal" fill="#262626" stroke="#262626" stroke-width="0.2" textLength="92.78" lengthAdjust="spacingAndGlyphs">The relative expression</text>
<text transform="translate(400.60,299.39) rotate(-90)" font-size="9.3" font-weight="normal" fill="#262626" stroke="#262626" stroke-width="0.2" textLength="47.17" lengthAdjust="spacingAndGlyphs">level of Lig3</text>
<text x="370.44" y="215.70" font-size="17.3" font-weight="normal" fill="#000" stroke="#000" stroke-width="0.2" textLength="13.46" lengthAdjust="spacingAndGlyphs">G</text>
<path d="M597.90,338.50 V252.90 H614.30 V338.50" fill="none" stroke="#4ca98d" stroke-width="1.9"/>
<path d="M624.60,338.50 V334.60 H641.00 V338.50" fill="none" stroke="#dcbd5f" stroke-width="1.9"/>
<path d="M651.20,338.50 V288.90 H667.60 V338.50" fill="none" stroke="#da715b" stroke-width="1.9"/>
<line x1="632.80" y1="332.20" x2="632.80" y2="335.50" stroke="#f5c896" stroke-width="1.0"/>
<line x1="628.80" y1="332.20" x2="636.80" y2="332.20" stroke="#f5c896" stroke-width="1.0"/>
<line x1="628.80" y1="335.50" x2="636.80" y2="335.50" stroke="#f5c896" stroke-width="1.0"/>
<line x1="659.50" y1="280.60" x2="659.50" y2="295.20" stroke="#c0a070" stroke-width="1.0"/>
<line x1="655.50" y1="280.60" x2="663.50" y2="280.60" stroke="#c0a070" stroke-width="1.0"/>
<line x1="655.50" y1="295.20" x2="663.50" y2="295.20" stroke="#c0a070" stroke-width="1.0"/>
<circle cx="599.20" cy="252.40" r="2.05" fill="#1f6e14"/>
<circle cx="606.20" cy="251.40" r="2.05" fill="#1f6e14"/>
<circle cx="613.50" cy="252.00" r="2.05" fill="#1f6e14"/>
<rect x="627.10" y="329.40" width="4.00" height="4.00" fill="#f0983e"/>
<rect x="634.80" y="331.00" width="4.00" height="4.00" fill="#f0983e"/>
<rect x="627.10" y="333.40" width="4.00" height="4.00" fill="#f0983e"/>
<polygon points="659.50,277.90 661.50,281.60 657.50,281.60" fill="#9a6616"/>
<polygon points="655.50,291.70 657.50,295.40 653.50,295.40" fill="#9a6616"/>
<polygon points="663.80,289.10 665.80,292.80 661.80,292.80" fill="#9a6616"/>
<line x1="588.50" y1="218.50" x2="588.50" y2="339.30" stroke="#1e1e1e" stroke-width="1.6"/>
<line x1="582.90" y1="338.50" x2="677.80" y2="338.50" stroke="#1e1e1e" stroke-width="1.6"/>
<text x="576.44" y="341.50" font-size="9.0" font-weight="normal" fill="#262626" stroke="#262626" stroke-width="0.2" textLength="5.01" lengthAdjust="spacingAndGlyphs">0</text>
<line x1="582.90" y1="318.62" x2="588.50" y2="318.62" stroke="#1e1e1e" stroke-width="1.5"/>
<text x="561.43" y="321.62" font-size="9.0" font-weight="normal" fill="#262626" stroke="#262626" stroke-width="0.2" textLength="20.02" lengthAdjust="spacingAndGlyphs">2000</text>
<line x1="582.90" y1="298.73" x2="588.50" y2="298.73" stroke="#1e1e1e" stroke-width="1.5"/>
<text x="561.43" y="301.73" font-size="9.0" font-weight="normal" fill="#262626" stroke="#262626" stroke-width="0.2" textLength="20.02" lengthAdjust="spacingAndGlyphs">4000</text>
<line x1="582.90" y1="278.85" x2="588.50" y2="278.85" stroke="#1e1e1e" stroke-width="1.5"/>
<text x="561.43" y="281.85" font-size="9.0" font-weight="normal" fill="#262626" stroke="#262626" stroke-width="0.2" textLength="20.02" lengthAdjust="spacingAndGlyphs">6000</text>
<line x1="582.90" y1="258.97" x2="588.50" y2="258.97" stroke="#1e1e1e" stroke-width="1.5"/>
<text x="561.43" y="261.97" font-size="9.0" font-weight="normal" fill="#262626" stroke="#262626" stroke-width="0.2" textLength="20.02" lengthAdjust="spacingAndGlyphs">8000</text>
<line x1="582.90" y1="239.08" x2="588.50" y2="239.08" stroke="#1e1e1e" stroke-width="1.5"/>
<text x="556.41" y="242.08" font-size="9.0" font-weight="normal" fill="#262626" stroke="#262626" stroke-width="0.2" textLength="25.03" lengthAdjust="spacingAndGlyphs">10000</text>
<line x1="582.90" y1="219.20" x2="588.50" y2="219.20" stroke="#1e1e1e" stroke-width="1.5"/>
<text x="556.41" y="222.20" font-size="9.0" font-weight="normal" fill="#262626" stroke="#262626" stroke-width="0.2" textLength="25.03" lengthAdjust="spacingAndGlyphs">12000</text>
<line x1="606.10" y1="338.50" x2="606.10" y2="344.00" stroke="#1e1e1e" stroke-width="1.5"/>
<line x1="632.80" y1="338.50" x2="632.80" y2="344.00" stroke="#1e1e1e" stroke-width="1.5"/>
<line x1="659.40" y1="338.50" x2="659.40" y2="344.00" stroke="#1e1e1e" stroke-width="1.5"/>
<text transform="translate(607.60,350.90) rotate(-43)" font-size="8.6" text-anchor="end" fill="#262626" stroke="#262626" stroke-width="0.2" textLength="25.23" lengthAdjust="spacingAndGlyphs">Control</text>
<text transform="translate(634.30,350.90) rotate(-43)" font-size="8.6" text-anchor="end" fill="#262626" stroke="#262626" stroke-width="0.2" textLength="46.10" lengthAdjust="spacingAndGlyphs">Lig3 siRNA-1</text>
<text transform="translate(660.90,350.90) rotate(-43)" font-size="8.6" text-anchor="end" fill="#262626" stroke="#262626" stroke-width="0.2" textLength="46.10" lengthAdjust="spacingAndGlyphs">Lig3 siRNA-2</text>
<line x1="606.20" y1="226.00" x2="659.50" y2="226.00" stroke="#4a4a4a" stroke-width="1.1"/>
<text x="614.69" y="221.10" font-size="7.55" font-weight="normal" fill="#2e2e2e" stroke="#2e2e2e" stroke-width="0.2" textLength="36.07" lengthAdjust="spacingAndGlyphs">P = 0.0001</text>
<line x1="606.20" y1="245.00" x2="632.90" y2="245.00" stroke="#4a4a4a" stroke-width="1.1"/>
<text x="601.39" y="240.00" font-size="7.55" font-weight="normal" fill="#2e2e2e" stroke="#2e2e2e" stroke-width="0.2" textLength="36.07" lengthAdjust="spacingAndGlyphs">P &lt; 0.0001</text>
<text transform="translate(549.40,327.31) rotate(-90)" font-size="9.6" font-weight="normal" fill="#262626" stroke="#262626" stroke-width="0.2" textLength="67.33" lengthAdjust="spacingAndGlyphs">Copies of eccDNA</text>
<text transform="translate(544.50,259.87) rotate(-90)" font-size="5.8" font-weight="normal" fill="#262626" stroke="#262626" stroke-width="0.2" textLength="9.94" lengthAdjust="spacingAndGlyphs">fib-L</text>
<text transform="translate(549.40,250.40) rotate(-90)" font-size="9.3" font-weight="normal" fill="#262626" stroke="#262626" stroke-width="0.2" textLength="20.00" lengthAdjust="spacingAndGlyphs">(/μg)</text>
<text x="522.08" y="215.70" font-size="17.3" font-weight="normal" fill="#000" stroke="#000" stroke-width="0.2" textLength="12.49" lengthAdjust="spacingAndGlyphs">H</text>
<path d="M106.60,542.80 V460.50 H122.40 V542.80" fill="none" stroke="#e6c3f9" stroke-width="1.9"/>
<path d="M132.90,542.80 V506.00 H148.70 V542.80" fill="none" stroke="#c6dcf6" stroke-width="1.9"/>
<path d="M159.50,542.80 V503.10 H175.30 V542.80" fill="none" stroke="#8e8ed8" stroke-width="1.9"/>
<line x1="140.80" y1="499.00" x2="140.80" y2="511.10" stroke="#8cbcf5" stroke-width="1.0"/>
<line x1="136.80" y1="499.00" x2="144.80" y2="499.00" stroke="#8cbcf5" stroke-width="1.0"/>
<line x1="136.80" y1="511.10" x2="144.80" y2="511.10" stroke="#8cbcf5" stroke-width="1.0"/>
<line x1="167.40" y1="496.40" x2="167.40" y2="508.20" stroke="#9c9cf0" stroke-width="1.0"/>
<line x1="163.40" y1="496.40" x2="171.40" y2="496.40" stroke="#9c9cf0" stroke-width="1.0"/>
<line x1="163.40" y1="508.20" x2="171.40" y2="508.20" stroke="#9c9cf0" stroke-width="1.0"/>
<circle cx="107.80" cy="460.00" r="2.05" fill="#d986fb"/>
<circle cx="114.70" cy="460.00" r="2.05" fill="#d986fb"/>
<circle cx="121.60" cy="460.00" r="2.05" fill="#d986fb"/>
<rect x="138.80" y="498.40" width="4.00" height="4.00" fill="#5a9af3"/>
<rect x="138.80" y="501.40" width="4.00" height="4.00" fill="#5a9af3"/>
<rect x="138.80" y="509.40" width="4.00" height="4.00" fill="#5a9af3"/>
<polygon points="163.40,496.70 165.40,500.40 161.40,500.40" fill="#8080f0"/>
<polygon points="171.50,496.70 173.50,500.40 169.50,500.40" fill="#8080f0"/>
<polygon points="167.40,506.90 169.40,510.60 165.40,510.60" fill="#8080f0"/>
<line x1="97.30" y1="417.70" x2="97.30" y2="543.60" stroke="#1e1e1e" stroke-width="1.6"/>
<line x1="91.70" y1="542.80" x2="185.60" y2="542.80" stroke="#1e1e1e" stroke-width="1.6"/>
<text x="77.73" y="545.80" font-size="9.0" font-weight="normal" fill="#262626" stroke="#262626" stroke-width="0.2" textLength="12.51" lengthAdjust="spacingAndGlyphs">0.0</text>
<line x1="91.70" y1="501.33" x2="97.30" y2="501.33" stroke="#1e1e1e" stroke-width="1.5"/>
<text x="77.76" y="504.33" font-size="9.0" font-weight="normal" fill="#262626" stroke="#262626" stroke-width="0.2" textLength="12.51" lengthAdjust="spacingAndGlyphs">0.5</text>
<line x1="91.70" y1="459.87" x2="97.30" y2="459.87" stroke="#1e1e1e" stroke-width="1.5"/>
<text x="77.73" y="462.87" font-size="9.0" font-weight="normal" fill="#262626" stroke="#262626" stroke-width="0.2" textLength="12.51" lengthAdjust="spacingAndGlyphs">1.0</text>
<line x1="91.70" y1="418.40" x2="97.30" y2="418.40" stroke="#1e1e1e" stroke-width="1.5"/>
<text x="77.76" y="421.40" font-size="9.0" font-weight="normal" fill="#262626" stroke="#262626" stroke-width="0.2" textLength="12.51" lengthAdjust="spacingAndGlyphs">1.5</text>
<line x1="114.50" y1="542.80" x2="114.50" y2="548.30" stroke="#1e1e1e" stroke-width="1.5"/>
<line x1="140.80" y1="542.80" x2="140.80" y2="548.30" stroke="#1e1e1e" stroke-width="1.5"/>
<line x1="167.40" y1="542.80" x2="167.40" y2="548.30" stroke="#1e1e1e" stroke-width="1.5"/>
<text transform="translate(116.00,555.20) rotate(-43)" font-size="8.28" text-anchor="end" fill="#262626" stroke="#262626" stroke-width="0.2" textLength="24.29" lengthAdjust="spacingAndGlyphs">Control</text>
<text transform="translate(142.30,555.20) rotate(-43)" font-size="8.28" text-anchor="end" fill="#262626" stroke="#262626" stroke-width="0.2" textLength="55.68" lengthAdjust="spacingAndGlyphs">XRCC1 siRNA-1</text>
<text transform="translate(168.90,555.20) rotate(-43)" font-size="8.28" text-anchor="end" fill="#262626" stroke="#262626" stroke-width="0.2" textLength="55.68" lengthAdjust="spacingAndGlyphs">XRCC1 siRNA-2</text>
<line x1="115.00" y1="430.50" x2="167.60" y2="430.50" stroke="#4a4a4a" stroke-width="1.1"/>
<text x="123.81" y="425.90" font-size="7.27" font-weight="normal" fill="#2e2e2e" stroke="#2e2e2e" stroke-width="0.2" textLength="34.73" lengthAdjust="spacingAndGlyphs">P &lt; 0.0001</text>
<line x1="115.00" y1="451.70" x2="141.00" y2="451.70" stroke="#4a4a4a" stroke-width="1.1"/>
<text x="110.51" y="446.90" font-size="7.27" font-weight="normal" fill="#2e2e2e" stroke="#2e2e2e" stroke-width="0.2" textLength="34.73" lengthAdjust="spacingAndGlyphs">P &lt; 0.0001</text>
<text transform="translate(63.40,525.09) rotate(-90)" font-size="8.89" font-weight="normal" fill="#262626" stroke="#262626" stroke-width="0.2" textLength="88.64" lengthAdjust="spacingAndGlyphs">The relative expression</text>
<text transform="translate(73.70,510.26) rotate(-90)" font-size="8.89" font-weight="normal" fill="#262626" stroke="#262626" stroke-width="0.2" textLength="57.36" lengthAdjust="spacingAndGlyphs">level of XRCC1</text>
<text x="44.41" y="424.00" font-size="17.3" font-weight="normal" fill="#000" stroke="#000" stroke-width="0.2" textLength="4.81" lengthAdjust="spacingAndGlyphs">I</text>
<path d="M266.50,545.40 V471.70 H282.30 V545.40" fill="none" stroke="#4ca98d" stroke-width="1.9"/>
<path d="M293.20,545.40 V488.90 H309.00 V545.40" fill="none" stroke="#dcbd5f" stroke-width="1.9"/>
<path d="M320.10,545.40 V482.70 H335.90 V545.40" fill="none" stroke="#da715b" stroke-width="1.9"/>
<line x1="274.40" y1="464.10" x2="274.40" y2="477.30" stroke="#5f9c5c" stroke-width="1.0"/>
<line x1="270.40" y1="464.10" x2="278.40" y2="464.10" stroke="#5f9c5c" stroke-width="1.0"/>
<line x1="270.40" y1="477.30" x2="278.40" y2="477.30" stroke="#5f9c5c" stroke-width="1.0"/>
<line x1="301.10" y1="488.20" x2="301.10" y2="490.80" stroke="#f5c896" stroke-width="1.0"/>
<line x1="297.10" y1="488.20" x2="305.10" y2="488.20" stroke="#f5c896" stroke-width="1.0"/>
<line x1="297.10" y1="490.80" x2="305.10" y2="490.80" stroke="#f5c896" stroke-width="1.0"/>
<line x1="328.00" y1="479.50" x2="328.00" y2="483.80" stroke="#c0a070" stroke-width="1.0"/>
<line x1="324.00" y1="479.50" x2="332.00" y2="479.50" stroke="#c0a070" stroke-width="1.0"/>
<line x1="324.00" y1="483.80" x2="332.00" y2="483.80" stroke="#c0a070" stroke-width="1.0"/>
<circle cx="274.30" cy="464.10" r="2.05" fill="#1f6e14"/>
<circle cx="270.30" cy="476.10" r="2.05" fill="#1f6e14"/>
<circle cx="278.40" cy="472.90" r="2.05" fill="#1f6e14"/>
<rect x="292.10" y="488.40" width="4.00" height="4.00" fill="#f0983e"/>
<rect x="299.00" y="486.50" width="4.00" height="4.00" fill="#f0983e"/>
<rect x="306.30" y="487.20" width="4.00" height="4.00" fill="#f0983e"/>
<polygon points="323.60,477.90 325.60,481.60 321.60,481.60" fill="#9a6616"/>
<polygon points="323.60,482.70 325.60,486.40 321.60,486.40" fill="#9a6616"/>
<polygon points="331.60,479.30 333.60,483.00 329.60,483.00" fill="#9a6616"/>
<line x1="256.60" y1="429.40" x2="256.60" y2="546.20" stroke="#1e1e1e" stroke-width="1.6"/>
<line x1="251.00" y1="545.40" x2="346.20" y2="545.40" stroke="#1e1e1e" stroke-width="1.6"/>
<text x="244.38" y="548.40" font-size="9.3" font-weight="normal" fill="#262626" stroke="#262626" stroke-width="0.2" textLength="5.17" lengthAdjust="spacingAndGlyphs">0</text>
<line x1="251.00" y1="522.34" x2="256.60" y2="522.34" stroke="#1e1e1e" stroke-width="1.5"/>
<text x="228.87" y="525.34" font-size="9.3" font-weight="normal" fill="#262626" stroke="#262626" stroke-width="0.2" textLength="20.69" lengthAdjust="spacingAndGlyphs">1000</text>
<line x1="251.00" y1="499.28" x2="256.60" y2="499.28" stroke="#1e1e1e" stroke-width="1.5"/>
<text x="228.87" y="502.28" font-size="9.3" font-weight="normal" fill="#262626" stroke="#262626" stroke-width="0.2" textLength="20.69" lengthAdjust="spacingAndGlyphs">2000</text>
<line x1="251.00" y1="476.22" x2="256.60" y2="476.22" stroke="#1e1e1e" stroke-width="1.5"/>
<text x="228.87" y="479.22" font-size="9.3" font-weight="normal" fill="#262626" stroke="#262626" stroke-width="0.2" textLength="20.69" lengthAdjust="spacingAndGlyphs">3000</text>
<line x1="251.00" y1="453.16" x2="256.60" y2="453.16" stroke="#1e1e1e" stroke-width="1.5"/>
<text x="228.87" y="456.16" font-size="9.3" font-weight="normal" fill="#262626" stroke="#262626" stroke-width="0.2" textLength="20.69" lengthAdjust="spacingAndGlyphs">4000</text>
<line x1="251.00" y1="430.10" x2="256.60" y2="430.10" stroke="#1e1e1e" stroke-width="1.5"/>
<text x="228.87" y="433.10" font-size="9.3" font-weight="normal" fill="#262626" stroke="#262626" stroke-width="0.2" textLength="20.69" lengthAdjust="spacingAndGlyphs">5000</text>
<line x1="274.40" y1="545.40" x2="274.40" y2="550.90" stroke="#1e1e1e" stroke-width="1.5"/>
<line x1="301.10" y1="545.40" x2="301.10" y2="550.90" stroke="#1e1e1e" stroke-width="1.5"/>
<line x1="328.00" y1="545.40" x2="328.00" y2="550.90" stroke="#1e1e1e" stroke-width="1.5"/>
<text transform="translate(275.90,557.80) rotate(-43)" font-size="8.28" text-anchor="end" fill="#262626" stroke="#262626" stroke-width="0.2" textLength="24.29" lengthAdjust="spacingAndGlyphs">Control</text>
<text transform="translate(302.60,557.80) rotate(-43)" font-size="8.28" text-anchor="end" fill="#262626" stroke="#262626" stroke-width="0.2" textLength="55.68" lengthAdjust="spacingAndGlyphs">XRCC1 siRNA-1</text>
<text transform="translate(329.50,557.80) rotate(-43)" font-size="8.28" text-anchor="end" fill="#262626" stroke="#262626" stroke-width="0.2" textLength="55.68" lengthAdjust="spacingAndGlyphs">XRCC1 siRNA-2</text>
<line x1="274.40" y1="439.30" x2="327.70" y2="439.30" stroke="#4a4a4a" stroke-width="1.1"/>
<text x="283.56" y="434.20" font-size="7.27" font-weight="normal" fill="#2e2e2e" stroke="#2e2e2e" stroke-width="0.2" textLength="34.70" lengthAdjust="spacingAndGlyphs">P = 0.0236</text>
<line x1="274.40" y1="457.30" x2="301.00" y2="457.30" stroke="#4a4a4a" stroke-width="1.1"/>
<text x="270.21" y="452.70" font-size="7.27" font-weight="normal" fill="#2e2e2e" stroke="#2e2e2e" stroke-width="0.2" textLength="34.73" lengthAdjust="spacingAndGlyphs">P = 0.0021</text>
<text transform="translate(222.70,534.80) rotate(-90)" font-size="9.6" font-weight="normal" fill="#262626" stroke="#262626" stroke-width="0.2" textLength="65.21" lengthAdjust="spacingAndGlyphs">Copies of eccDNA</text>
<text transform="translate(217.80,469.47) rotate(-90)" font-size="5.8" font-weight="normal" fill="#262626" stroke="#262626" stroke-width="0.2" textLength="9.53" lengthAdjust="spacingAndGlyphs">fib-L</text>
<text transform="translate(222.70,460.36) rotate(-90)" font-size="9.3" font-weight="normal" fill="#262626" stroke="#262626" stroke-width="0.2" textLength="18.72" lengthAdjust="spacingAndGlyphs">(/μg)</text>
<text x="196.34" y="424.70" font-size="17.3" font-weight="normal" fill="#000" stroke="#000" stroke-width="0.2" textLength="8.65" lengthAdjust="spacingAndGlyphs">J</text>
<path d="M433.00,548.30 V462.90 H449.40 V548.30" fill="none" stroke="#e6c3f9" stroke-width="1.9"/>
<path d="M459.70,548.30 V517.50 H476.10 V548.30" fill="none" stroke="#c6dcf6" stroke-width="1.9"/>
<path d="M487.30,548.30 V493.90 H503.70 V548.30" fill="none" stroke="#8e8ed8" stroke-width="1.9"/>
<line x1="468.10" y1="511.80" x2="468.10" y2="522.00" stroke="#8cbcf5" stroke-width="1.0"/>
<line x1="464.10" y1="511.80" x2="472.10" y2="511.80" stroke="#8cbcf5" stroke-width="1.0"/>
<line x1="464.10" y1="522.00" x2="472.10" y2="522.00" stroke="#8cbcf5" stroke-width="1.0"/>
<line x1="495.50" y1="483.20" x2="495.50" y2="502.60" stroke="#9c9cf0" stroke-width="1.0"/>
<line x1="491.50" y1="483.20" x2="499.50" y2="483.20" stroke="#9c9cf0" stroke-width="1.0"/>
<line x1="491.50" y1="502.60" x2="499.50" y2="502.60" stroke="#9c9cf0" stroke-width="1.0"/>
<circle cx="433.80" cy="462.70" r="2.05" fill="#d986fb"/>
<circle cx="441.10" cy="462.70" r="2.05" fill="#d986fb"/>
<circle cx="448.40" cy="462.70" r="2.05" fill="#d986fb"/>
<rect x="462.10" y="511.90" width="4.00" height="4.00" fill="#5a9af3"/>
<rect x="470.30" y="511.90" width="4.00" height="4.00" fill="#5a9af3"/>
<rect x="466.20" y="520.60" width="4.00" height="4.00" fill="#5a9af3"/>
<polygon points="495.50,483.20 497.50,486.90 493.50,486.90" fill="#8080f0"/>
<polygon points="495.50,487.60 497.50,491.30 493.50,491.30" fill="#8080f0"/>
<polygon points="495.50,501.10 497.50,504.80 493.50,504.80" fill="#8080f0"/>
<line x1="423.30" y1="418.90" x2="423.30" y2="549.10" stroke="#1e1e1e" stroke-width="1.6"/>
<line x1="417.70" y1="548.30" x2="513.70" y2="548.30" stroke="#1e1e1e" stroke-width="1.6"/>
<text x="403.73" y="551.30" font-size="9.0" font-weight="normal" fill="#262626" stroke="#262626" stroke-width="0.2" textLength="12.51" lengthAdjust="spacingAndGlyphs">0.0</text>
<line x1="417.70" y1="505.40" x2="423.30" y2="505.40" stroke="#1e1e1e" stroke-width="1.5"/>
<text x="403.76" y="508.40" font-size="9.0" font-weight="normal" fill="#262626" stroke="#262626" stroke-width="0.2" textLength="12.51" lengthAdjust="spacingAndGlyphs">0.5</text>
<line x1="417.70" y1="462.50" x2="423.30" y2="462.50" stroke="#1e1e1e" stroke-width="1.5"/>
<text x="403.73" y="465.50" font-size="9.0" font-weight="normal" fill="#262626" stroke="#262626" stroke-width="0.2" textLength="12.51" lengthAdjust="spacingAndGlyphs">1.0</text>
<line x1="417.70" y1="419.60" x2="423.30" y2="419.60" stroke="#1e1e1e" stroke-width="1.5"/>
<text x="403.76" y="422.60" font-size="9.0" font-weight="normal" fill="#262626" stroke="#262626" stroke-width="0.2" textLength="12.51" lengthAdjust="spacingAndGlyphs">1.5</text>
<line x1="441.20" y1="548.30" x2="441.20" y2="553.80" stroke="#1e1e1e" stroke-width="1.5"/>
<line x1="467.90" y1="548.30" x2="467.90" y2="553.80" stroke="#1e1e1e" stroke-width="1.5"/>
<line x1="495.50" y1="548.30" x2="495.50" y2="553.80" stroke="#1e1e1e" stroke-width="1.5"/>
<text transform="translate(442.70,560.70) rotate(-43)" font-size="8.6" text-anchor="end" fill="#262626" stroke="#262626" stroke-width="0.2" textLength="25.23" lengthAdjust="spacingAndGlyphs">Control</text>
<text transform="translate(469.40,560.70) rotate(-43)" font-size="8.6" text-anchor="end" fill="#262626" stroke="#262626" stroke-width="0.2" textLength="49.15" lengthAdjust="spacingAndGlyphs">Fen1 siRNA-1</text>
<text transform="translate(497.00,560.70) rotate(-43)" font-size="8.6" text-anchor="end" fill="#262626" stroke="#262626" stroke-width="0.2" textLength="49.15" lengthAdjust="spacingAndGlyphs">Fen1 siRNA-2</text>
<line x1="441.20" y1="431.60" x2="495.20" y2="431.60" stroke="#4a4a4a" stroke-width="1.1"/>
<text x="450.04" y="426.60" font-size="7.55" font-weight="normal" fill="#2e2e2e" stroke="#2e2e2e" stroke-width="0.2" textLength="36.08" lengthAdjust="spacingAndGlyphs">P = 0.0017</text>
<line x1="441.20" y1="454.30" x2="467.90" y2="454.30" stroke="#4a4a4a" stroke-width="1.1"/>
<text x="436.39" y="448.80" font-size="7.55" font-weight="normal" fill="#2e2e2e" stroke="#2e2e2e" stroke-width="0.2" textLength="36.07" lengthAdjust="spacingAndGlyphs">P &lt; 0.0001</text>
<text transform="translate(388.60,530.10) rotate(-90)" font-size="9.19" font-weight="normal" fill="#262626" stroke="#262626" stroke-width="0.2" textLength="91.67" lengthAdjust="spacingAndGlyphs">The relative expression</text>
<text transform="translate(399.40,509.88) rotate(-90)" font-size="9.19" font-weight="normal" fill="#262626" stroke="#262626" stroke-width="0.2" textLength="49.40" lengthAdjust="spacingAndGlyphs">level of Fen1</text>
<text x="369.88" y="424.70" font-size="17.3" font-weight="normal" fill="#000" stroke="#000" stroke-width="0.2" textLength="11.54" lengthAdjust="spacingAndGlyphs">K</text>
<path d="M594.40,550.10 V473.40 H610.80 V550.10" fill="none" stroke="#4ca98d" stroke-width="1.9"/>
<path d="M621.90,550.10 V499.70 H638.30 V550.10" fill="none" stroke="#dcbd5f" stroke-width="1.9"/>
<path d="M649.30,550.10 V494.00 H665.70 V550.10" fill="none" stroke="#da715b" stroke-width="1.9"/>
<line x1="602.60" y1="466.40" x2="602.60" y2="479.30" stroke="#5f9c5c" stroke-width="1.0"/>
<line x1="598.60" y1="466.40" x2="606.60" y2="466.40" stroke="#5f9c5c" stroke-width="1.0"/>
<line x1="598.60" y1="479.30" x2="606.60" y2="479.30" stroke="#5f9c5c" stroke-width="1.0"/>
<line x1="630.00" y1="492.50" x2="630.00" y2="505.00" stroke="#f5c896" stroke-width="1.0"/>
<line x1="626.00" y1="492.50" x2="634.00" y2="492.50" stroke="#f5c896" stroke-width="1.0"/>
<line x1="626.00" y1="505.00" x2="634.00" y2="505.00" stroke="#f5c896" stroke-width="1.0"/>
<line x1="657.50" y1="492.30" x2="657.50" y2="494.50" stroke="#c0a070" stroke-width="1.0"/>
<line x1="653.50" y1="492.30" x2="661.50" y2="492.30" stroke="#c0a070" stroke-width="1.0"/>
<line x1="653.50" y1="494.50" x2="661.50" y2="494.50" stroke="#c0a070" stroke-width="1.0"/>
<circle cx="602.70" cy="465.50" r="2.05" fill="#1f6e14"/>
<circle cx="598.40" cy="478.20" r="2.05" fill="#1f6e14"/>
<circle cx="606.80" cy="475.10" r="2.05" fill="#1f6e14"/>
<rect x="627.80" y="489.50" width="4.00" height="4.00" fill="#f0983e"/>
<rect x="623.70" y="501.80" width="4.00" height="4.00" fill="#f0983e"/>
<rect x="632.00" y="499.50" width="4.00" height="4.00" fill="#f0983e"/>
<polygon points="650.20,492.80 652.20,496.50 648.20,496.50" fill="#9a6616"/>
<polygon points="657.40,490.00 659.40,493.70 655.40,493.70" fill="#9a6616"/>
<polygon points="664.60,490.00 666.60,493.70 662.60,493.70" fill="#9a6616"/>
<line x1="584.30" y1="430.30" x2="584.30" y2="550.90" stroke="#1e1e1e" stroke-width="1.6"/>
<line x1="578.70" y1="550.10" x2="676.50" y2="550.10" stroke="#1e1e1e" stroke-width="1.6"/>
<text x="572.08" y="553.10" font-size="9.3" font-weight="normal" fill="#262626" stroke="#262626" stroke-width="0.2" textLength="5.17" lengthAdjust="spacingAndGlyphs">0</text>
<line x1="578.70" y1="526.28" x2="584.30" y2="526.28" stroke="#1e1e1e" stroke-width="1.5"/>
<text x="556.57" y="529.28" font-size="9.3" font-weight="normal" fill="#262626" stroke="#262626" stroke-width="0.2" textLength="20.69" lengthAdjust="spacingAndGlyphs">1000</text>
<line x1="578.70" y1="502.46" x2="584.30" y2="502.46" stroke="#1e1e1e" stroke-width="1.5"/>
<text x="556.57" y="505.46" font-size="9.3" font-weight="normal" fill="#262626" stroke="#262626" stroke-width="0.2" textLength="20.69" lengthAdjust="spacingAndGlyphs">2000</text>
<line x1="578.70" y1="478.64" x2="584.30" y2="478.64" stroke="#1e1e1e" stroke-width="1.5"/>
<text x="556.57" y="481.64" font-size="9.3" font-weight="normal" fill="#262626" stroke="#262626" stroke-width="0.2" textLength="20.69" lengthAdjust="spacingAndGlyphs">3000</text>
<line x1="578.70" y1="454.82" x2="584.30" y2="454.82" stroke="#1e1e1e" stroke-width="1.5"/>
<text x="556.57" y="457.82" font-size="9.3" font-weight="normal" fill="#262626" stroke="#262626" stroke-width="0.2" textLength="20.69" lengthAdjust="spacingAndGlyphs">4000</text>
<line x1="578.70" y1="431.00" x2="584.30" y2="431.00" stroke="#1e1e1e" stroke-width="1.5"/>
<text x="556.57" y="434.00" font-size="9.3" font-weight="normal" fill="#262626" stroke="#262626" stroke-width="0.2" textLength="20.69" lengthAdjust="spacingAndGlyphs">5000</text>
<line x1="602.60" y1="550.10" x2="602.60" y2="555.60" stroke="#1e1e1e" stroke-width="1.5"/>
<line x1="630.10" y1="550.10" x2="630.10" y2="555.60" stroke="#1e1e1e" stroke-width="1.5"/>
<line x1="657.50" y1="550.10" x2="657.50" y2="555.60" stroke="#1e1e1e" stroke-width="1.5"/>
<text transform="translate(604.10,562.50) rotate(-43)" font-size="8.6" text-anchor="end" fill="#262626" stroke="#262626" stroke-width="0.2" textLength="25.23" lengthAdjust="spacingAndGlyphs">Control</text>
<text transform="translate(631.60,562.50) rotate(-43)" font-size="8.6" text-anchor="end" fill="#262626" stroke="#262626" stroke-width="0.2" textLength="49.15" lengthAdjust="spacingAndGlyphs">Fen1 siRNA-1</text>
<text transform="translate(659.00,562.50) rotate(-43)" font-size="8.6" text-anchor="end" fill="#262626" stroke="#262626" stroke-width="0.2" textLength="49.15" lengthAdjust="spacingAndGlyphs">Fen1 siRNA-2</text>
<line x1="602.70" y1="438.10" x2="657.40" y2="438.10" stroke="#4a4a4a" stroke-width="1.1"/>
<text x="611.89" y="433.30" font-size="7.55" font-weight="normal" fill="#2e2e2e" stroke="#2e2e2e" stroke-width="0.2" textLength="36.08" lengthAdjust="spacingAndGlyphs">P = 0.0072</text>
<line x1="602.70" y1="457.50" x2="629.80" y2="457.50" stroke="#4a4a4a" stroke-width="1.1"/>
<text x="598.09" y="452.90" font-size="7.55" font-weight="normal" fill="#2e2e2e" stroke="#2e2e2e" stroke-width="0.2" textLength="35.99" lengthAdjust="spacingAndGlyphs">P = 0.0020</text>
<text transform="translate(549.70,538.81) rotate(-90)" font-size="9.6" font-weight="normal" fill="#262626" stroke="#262626" stroke-width="0.2" textLength="67.73" lengthAdjust="spacingAndGlyphs">Copies of eccDNA</text>
<text transform="translate(544.80,470.98) rotate(-90)" font-size="5.8" font-weight="normal" fill="#262626" stroke="#262626" stroke-width="0.2" textLength="10.66" lengthAdjust="spacingAndGlyphs">fib-L</text>
<text transform="translate(549.70,460.76) rotate(-90)" font-size="9.3" font-weight="normal" fill="#262626" stroke="#262626" stroke-width="0.2" textLength="18.83" lengthAdjust="spacingAndGlyphs">(/μg)</text>
<text x="522.08" y="424.70" font-size="17.3" font-weight="normal" fill="#000" stroke="#000" stroke-width="0.2" textLength="9.62" lengthAdjust="spacingAndGlyphs">L</text>
<path d="M108.20,743.80 V658.00 H124.60 V743.80" fill="none" stroke="#e6c3f9" stroke-width="1.9"/>
<path d="M135.30,743.80 V689.80 H151.70 V743.80" fill="none" stroke="#c6dcf6" stroke-width="1.9"/>
<path d="M162.40,743.80 V685.40 H178.80 V743.80" fill="none" stroke="#8e8ed8" stroke-width="1.9"/>
<line x1="143.50" y1="682.50" x2="143.50" y2="695.60" stroke="#8cbcf5" stroke-width="1.0"/>
<line x1="139.50" y1="682.50" x2="147.50" y2="682.50" stroke="#8cbcf5" stroke-width="1.0"/>
<line x1="139.50" y1="695.60" x2="147.50" y2="695.60" stroke="#8cbcf5" stroke-width="1.0"/>
<line x1="170.50" y1="676.60" x2="170.50" y2="692.30" stroke="#9c9cf0" stroke-width="1.0"/>
<line x1="166.50" y1="676.60" x2="174.50" y2="676.60" stroke="#9c9cf0" stroke-width="1.0"/>
<line x1="166.50" y1="692.30" x2="174.50" y2="692.30" stroke="#9c9cf0" stroke-width="1.0"/>
<circle cx="109.20" cy="657.70" r="2.05" fill="#d986fb"/>
<circle cx="116.50" cy="657.70" r="2.05" fill="#d986fb"/>
<circle cx="123.80" cy="657.70" r="2.05" fill="#d986fb"/>
<rect x="137.20" y="681.60" width="4.00" height="4.00" fill="#5a9af3"/>
<rect x="145.60" y="684.90" width="4.00" height="4.00" fill="#5a9af3"/>
<rect x="141.20" y="694.00" width="4.00" height="4.00" fill="#5a9af3"/>
<polygon points="170.50,674.30 172.50,678.00 168.50,678.00" fill="#8080f0"/>
<polygon points="170.50,684.60 172.50,688.30 168.50,688.30" fill="#8080f0"/>
<polygon points="170.50,689.40 172.50,693.10 168.50,693.10" fill="#8080f0"/>
<line x1="98.10" y1="613.60" x2="98.10" y2="744.60" stroke="#1e1e1e" stroke-width="1.6"/>
<line x1="92.50" y1="743.80" x2="189.60" y2="743.80" stroke="#1e1e1e" stroke-width="1.6"/>
<text x="78.53" y="746.80" font-size="9.0" font-weight="normal" fill="#262626" stroke="#262626" stroke-width="0.2" textLength="12.51" lengthAdjust="spacingAndGlyphs">0.0</text>
<line x1="92.50" y1="700.63" x2="98.10" y2="700.63" stroke="#1e1e1e" stroke-width="1.5"/>
<text x="78.56" y="703.63" font-size="9.0" font-weight="normal" fill="#262626" stroke="#262626" stroke-width="0.2" textLength="12.51" lengthAdjust="spacingAndGlyphs">0.5</text>
<line x1="92.50" y1="657.47" x2="98.10" y2="657.47" stroke="#1e1e1e" stroke-width="1.5"/>
<text x="78.53" y="660.47" font-size="9.0" font-weight="normal" fill="#262626" stroke="#262626" stroke-width="0.2" textLength="12.51" lengthAdjust="spacingAndGlyphs">1.0</text>
<line x1="92.50" y1="614.30" x2="98.10" y2="614.30" stroke="#1e1e1e" stroke-width="1.5"/>
<text x="78.56" y="617.30" font-size="9.0" font-weight="normal" fill="#262626" stroke="#262626" stroke-width="0.2" textLength="12.51" lengthAdjust="spacingAndGlyphs">1.5</text>
<line x1="116.40" y1="743.80" x2="116.40" y2="749.30" stroke="#1e1e1e" stroke-width="1.5"/>
<line x1="143.50" y1="743.80" x2="143.50" y2="749.30" stroke="#1e1e1e" stroke-width="1.5"/>
<line x1="170.60" y1="743.80" x2="170.60" y2="749.30" stroke="#1e1e1e" stroke-width="1.5"/>
<text transform="translate(117.90,756.20) rotate(-43)" font-size="8.6" text-anchor="end" fill="#262626" stroke="#262626" stroke-width="0.2" textLength="25.23" lengthAdjust="spacingAndGlyphs">Control</text>
<text transform="translate(145.00,756.20) rotate(-43)" font-size="8.6" text-anchor="end" fill="#262626" stroke="#262626" stroke-width="0.2" textLength="46.97" lengthAdjust="spacingAndGlyphs">Polθ siRNA-1</text>
<text transform="translate(172.10,756.20) rotate(-43)" font-size="8.6" text-anchor="end" fill="#262626" stroke="#262626" stroke-width="0.2" textLength="46.97" lengthAdjust="spacingAndGlyphs">Polθ siRNA-2</text>
<line x1="116.20" y1="624.50" x2="170.60" y2="624.50" stroke="#4a4a4a" stroke-width="1.1"/>
<text x="125.24" y="619.40" font-size="7.55" font-weight="normal" fill="#2e2e2e" stroke="#2e2e2e" stroke-width="0.2" textLength="36.03" lengthAdjust="spacingAndGlyphs">P = 0.0023</text>
<line x1="116.20" y1="647.40" x2="143.50" y2="647.40" stroke="#4a4a4a" stroke-width="1.1"/>
<text x="111.69" y="642.30" font-size="7.55" font-weight="normal" fill="#2e2e2e" stroke="#2e2e2e" stroke-width="0.2" textLength="35.99" lengthAdjust="spacingAndGlyphs">P = 0.0010</text>
<text transform="translate(63.50,725.80) rotate(-90)" font-size="9.27" font-weight="normal" fill="#262626" stroke="#262626" stroke-width="0.2" textLength="92.47" lengthAdjust="spacingAndGlyphs">The relative expression</text>
<text transform="translate(74.20,703.89) rotate(-90)" font-size="9.27" font-weight="normal" fill="#262626" stroke="#262626" stroke-width="0.2" textLength="48.24" lengthAdjust="spacingAndGlyphs">level of Polθ</text>
<text x="43.78" y="619.00" font-size="17.3" font-weight="normal" fill="#000" stroke="#000" stroke-width="0.2" textLength="14.41" lengthAdjust="spacingAndGlyphs">M</text>
<path d="M267.70,743.00 V666.40 H284.10 V743.00" fill="none" stroke="#4ca98d" stroke-width="1.9"/>
<path d="M295.30,743.00 V710.90 H311.70 V743.00" fill="none" stroke="#dcbd5f" stroke-width="1.9"/>
<path d="M322.90,743.00 V675.50 H339.30 V743.00" fill="none" stroke="#da715b" stroke-width="1.9"/>
<line x1="276.00" y1="659.40" x2="276.00" y2="672.30" stroke="#5f9c5c" stroke-width="1.0"/>
<line x1="272.00" y1="659.40" x2="280.00" y2="659.40" stroke="#5f9c5c" stroke-width="1.0"/>
<line x1="272.00" y1="672.30" x2="280.00" y2="672.30" stroke="#5f9c5c" stroke-width="1.0"/>
<line x1="303.50" y1="705.70" x2="303.50" y2="714.40" stroke="#f5c896" stroke-width="1.0"/>
<line x1="299.50" y1="705.70" x2="307.50" y2="705.70" stroke="#f5c896" stroke-width="1.0"/>
<line x1="299.50" y1="714.40" x2="307.50" y2="714.40" stroke="#f5c896" stroke-width="1.0"/>
<line x1="330.80" y1="669.60" x2="330.80" y2="680.30" stroke="#c0a070" stroke-width="1.0"/>
<line x1="326.80" y1="669.60" x2="334.80" y2="669.60" stroke="#c0a070" stroke-width="1.0"/>
<line x1="326.80" y1="680.30" x2="334.80" y2="680.30" stroke="#c0a070" stroke-width="1.0"/>
<circle cx="276.10" cy="658.40" r="2.05" fill="#1f6e14"/>
<circle cx="272.00" cy="671.10" r="2.05" fill="#1f6e14"/>
<circle cx="280.20" cy="668.20" r="2.05" fill="#1f6e14"/>
<rect x="301.50" y="704.10" width="4.00" height="4.00" fill="#f0983e"/>
<rect x="301.50" y="708.90" width="4.00" height="4.00" fill="#f0983e"/>
<rect x="301.50" y="712.10" width="4.00" height="4.00" fill="#f0983e"/>
<polygon points="326.50,670.00 328.50,673.70 324.50,673.70" fill="#9a6616"/>
<polygon points="335.00,670.00 337.00,673.70 333.00,673.70" fill="#9a6616"/>
<polygon points="330.60,679.00 332.60,682.70 328.60,682.70" fill="#9a6616"/>
<line x1="257.40" y1="622.40" x2="257.40" y2="743.80" stroke="#1e1e1e" stroke-width="1.6"/>
<line x1="251.80" y1="743.00" x2="350.40" y2="743.00" stroke="#1e1e1e" stroke-width="1.6"/>
<text x="245.18" y="746.00" font-size="9.3" font-weight="normal" fill="#262626" stroke="#262626" stroke-width="0.2" textLength="5.17" lengthAdjust="spacingAndGlyphs">0</text>
<line x1="251.80" y1="719.02" x2="257.40" y2="719.02" stroke="#1e1e1e" stroke-width="1.5"/>
<text x="229.67" y="722.02" font-size="9.3" font-weight="normal" fill="#262626" stroke="#262626" stroke-width="0.2" textLength="20.69" lengthAdjust="spacingAndGlyphs">1000</text>
<line x1="251.80" y1="695.04" x2="257.40" y2="695.04" stroke="#1e1e1e" stroke-width="1.5"/>
<text x="229.67" y="698.04" font-size="9.3" font-weight="normal" fill="#262626" stroke="#262626" stroke-width="0.2" textLength="20.69" lengthAdjust="spacingAndGlyphs">2000</text>
<line x1="251.80" y1="671.06" x2="257.40" y2="671.06" stroke="#1e1e1e" stroke-width="1.5"/>
<text x="229.67" y="674.06" font-size="9.3" font-weight="normal" fill="#262626" stroke="#262626" stroke-width="0.2" textLength="20.69" lengthAdjust="spacingAndGlyphs">3000</text>
<line x1="251.80" y1="647.08" x2="257.40" y2="647.08" stroke="#1e1e1e" stroke-width="1.5"/>
<text x="229.67" y="650.08" font-size="9.3" font-weight="normal" fill="#262626" stroke="#262626" stroke-width="0.2" textLength="20.69" lengthAdjust="spacingAndGlyphs">4000</text>
<line x1="251.80" y1="623.10" x2="257.40" y2="623.10" stroke="#1e1e1e" stroke-width="1.5"/>
<text x="229.67" y="626.10" font-size="9.3" font-weight="normal" fill="#262626" stroke="#262626" stroke-width="0.2" textLength="20.69" lengthAdjust="spacingAndGlyphs">5000</text>
<line x1="275.90" y1="743.00" x2="275.90" y2="748.50" stroke="#1e1e1e" stroke-width="1.5"/>
<line x1="303.50" y1="743.00" x2="303.50" y2="748.50" stroke="#1e1e1e" stroke-width="1.5"/>
<line x1="331.10" y1="743.00" x2="331.10" y2="748.50" stroke="#1e1e1e" stroke-width="1.5"/>
<text transform="translate(277.40,755.40) rotate(-43)" font-size="8.6" text-anchor="end" fill="#262626" stroke="#262626" stroke-width="0.2" textLength="25.23" lengthAdjust="spacingAndGlyphs">Control</text>
<text transform="translate(305.00,755.40) rotate(-43)" font-size="8.6" text-anchor="end" fill="#262626" stroke="#262626" stroke-width="0.2" textLength="46.97" lengthAdjust="spacingAndGlyphs">Polθ siRNA-1</text>
<text transform="translate(332.60,755.40) rotate(-43)" font-size="8.6" text-anchor="end" fill="#262626" stroke="#262626" stroke-width="0.2" textLength="46.97" lengthAdjust="spacingAndGlyphs">Polθ siRNA-2</text>
<line x1="276.20" y1="632.40" x2="330.90" y2="632.40" stroke="#4a4a4a" stroke-width="1.1"/>
<text x="285.39" y="627.70" font-size="7.55" font-weight="normal" fill="#2e2e2e" stroke="#2e2e2e" stroke-width="0.2" textLength="36.03" lengthAdjust="spacingAndGlyphs">P = 0.1383</text>
<line x1="276.20" y1="652.10" x2="303.50" y2="652.10" stroke="#4a4a4a" stroke-width="1.1"/>
<text x="271.69" y="647.40" font-size="7.55" font-weight="normal" fill="#2e2e2e" stroke="#2e2e2e" stroke-width="0.2" textLength="36.07" lengthAdjust="spacingAndGlyphs">P &lt; 0.0001</text>
<text transform="translate(222.70,732.31) rotate(-90)" font-size="9.6" font-weight="normal" fill="#262626" stroke="#262626" stroke-width="0.2" textLength="67.43" lengthAdjust="spacingAndGlyphs">Copies of eccDNA</text>
<text transform="translate(217.80,664.78) rotate(-90)" font-size="5.8" font-weight="normal" fill="#262626" stroke="#262626" stroke-width="0.2" textLength="10.66" lengthAdjust="spacingAndGlyphs">fib-L</text>
<text transform="translate(222.70,654.59) rotate(-90)" font-size="9.3" font-weight="normal" fill="#262626" stroke="#262626" stroke-width="0.2" textLength="19.68" lengthAdjust="spacingAndGlyphs">(/μg)</text>
<text x="195.68" y="619.00" font-size="17.3" font-weight="normal" fill="#000" stroke="#000" stroke-width="0.2" textLength="12.49" lengthAdjust="spacingAndGlyphs">N</text>
<path d="M433.80,743.00 V657.30 H450.20 V743.00" fill="none" stroke="#e6c3f9" stroke-width="1.9"/>
<path d="M460.80,743.00 V716.90 H477.20 V743.00" fill="none" stroke="#c6dcf6" stroke-width="1.9"/>
<path d="M488.10,743.00 V717.70 H504.50 V743.00" fill="none" stroke="#8e8ed8" stroke-width="1.9"/>
<line x1="469.30" y1="712.90" x2="469.30" y2="719.30" stroke="#8cbcf5" stroke-width="1.0"/>
<line x1="465.30" y1="712.90" x2="473.30" y2="712.90" stroke="#8cbcf5" stroke-width="1.0"/>
<line x1="465.30" y1="719.30" x2="473.30" y2="719.30" stroke="#8cbcf5" stroke-width="1.0"/>
<line x1="496.50" y1="714.50" x2="496.50" y2="718.00" stroke="#9c9cf0" stroke-width="1.0"/>
<line x1="492.50" y1="714.50" x2="500.50" y2="714.50" stroke="#9c9cf0" stroke-width="1.0"/>
<line x1="492.50" y1="718.00" x2="500.50" y2="718.00" stroke="#9c9cf0" stroke-width="1.0"/>
<circle cx="435.00" cy="656.90" r="2.05" fill="#d986fb"/>
<circle cx="442.00" cy="656.90" r="2.05" fill="#d986fb"/>
<circle cx="449.20" cy="656.90" r="2.05" fill="#d986fb"/>
<rect x="463.30" y="712.00" width="4.00" height="4.00" fill="#5a9af3"/>
<rect x="471.50" y="712.00" width="4.00" height="4.00" fill="#5a9af3"/>
<rect x="467.30" y="718.50" width="4.00" height="4.00" fill="#5a9af3"/>
<polygon points="489.90,716.20 491.90,719.90 487.90,719.90" fill="#8080f0"/>
<polygon points="496.80,713.00 498.80,716.70 494.80,716.70" fill="#8080f0"/>
<polygon points="503.50,713.40 505.50,717.10 501.50,717.10" fill="#8080f0"/>
<line x1="424.00" y1="613.20" x2="424.00" y2="743.80" stroke="#1e1e1e" stroke-width="1.6"/>
<line x1="418.40" y1="743.00" x2="515.10" y2="743.00" stroke="#1e1e1e" stroke-width="1.6"/>
<text x="404.43" y="746.00" font-size="9.0" font-weight="normal" fill="#262626" stroke="#262626" stroke-width="0.2" textLength="12.51" lengthAdjust="spacingAndGlyphs">0.0</text>
<line x1="418.40" y1="699.97" x2="424.00" y2="699.97" stroke="#1e1e1e" stroke-width="1.5"/>
<text x="404.46" y="702.97" font-size="9.0" font-weight="normal" fill="#262626" stroke="#262626" stroke-width="0.2" textLength="12.51" lengthAdjust="spacingAndGlyphs">0.5</text>
<line x1="418.40" y1="656.93" x2="424.00" y2="656.93" stroke="#1e1e1e" stroke-width="1.5"/>
<text x="404.43" y="659.93" font-size="9.0" font-weight="normal" fill="#262626" stroke="#262626" stroke-width="0.2" textLength="12.51" lengthAdjust="spacingAndGlyphs">1.0</text>
<line x1="418.40" y1="613.90" x2="424.00" y2="613.90" stroke="#1e1e1e" stroke-width="1.5"/>
<text x="404.46" y="616.90" font-size="9.0" font-weight="normal" fill="#262626" stroke="#262626" stroke-width="0.2" textLength="12.51" lengthAdjust="spacingAndGlyphs">1.5</text>
<line x1="442.00" y1="743.00" x2="442.00" y2="748.50" stroke="#1e1e1e" stroke-width="1.5"/>
<line x1="469.00" y1="743.00" x2="469.00" y2="748.50" stroke="#1e1e1e" stroke-width="1.5"/>
<line x1="496.30" y1="743.00" x2="496.30" y2="748.50" stroke="#1e1e1e" stroke-width="1.5"/>
<text transform="translate(443.50,755.40) rotate(-43)" font-size="8.6" text-anchor="end" fill="#262626" stroke="#262626" stroke-width="0.2" textLength="25.23" lengthAdjust="spacingAndGlyphs">Control</text>
<text transform="translate(470.50,755.40) rotate(-43)" font-size="8.6" text-anchor="end" fill="#262626" stroke="#262626" stroke-width="0.2" textLength="46.10" lengthAdjust="spacingAndGlyphs">Lig3 siRNA-1</text>
<text transform="translate(497.80,755.40) rotate(-43)" font-size="8.6" text-anchor="end" fill="#262626" stroke="#262626" stroke-width="0.2" textLength="46.10" lengthAdjust="spacingAndGlyphs">Lig3 siRNA-2</text>
<line x1="442.20" y1="626.00" x2="496.60" y2="626.00" stroke="#4a4a4a" stroke-width="1.1"/>
<text x="451.24" y="620.90" font-size="7.55" font-weight="normal" fill="#2e2e2e" stroke="#2e2e2e" stroke-width="0.2" textLength="36.07" lengthAdjust="spacingAndGlyphs">P &lt; 0.0001</text>
<line x1="442.20" y1="647.60" x2="469.30" y2="647.60" stroke="#4a4a4a" stroke-width="1.1"/>
<text x="437.59" y="642.30" font-size="7.55" font-weight="normal" fill="#2e2e2e" stroke="#2e2e2e" stroke-width="0.2" textLength="36.07" lengthAdjust="spacingAndGlyphs">P &lt; 0.0001</text>
<text transform="translate(389.50,725.10) rotate(-90)" font-size="9.29" font-weight="normal" fill="#262626" stroke="#262626" stroke-width="0.2" textLength="92.67" lengthAdjust="spacingAndGlyphs">The relative expression</text>
<text transform="translate(400.30,702.39) rotate(-90)" font-size="9.29" font-weight="normal" fill="#262626" stroke="#262626" stroke-width="0.2" textLength="47.17" lengthAdjust="spacingAndGlyphs">level of Lig3</text>
<text x="370.19" y="619.00" font-size="17.3" font-weight="normal" fill="#000" stroke="#000" stroke-width="0.2" textLength="13.46" lengthAdjust="spacingAndGlyphs">O</text>
<path d="M595.30,742.60 V666.60 H611.70 V742.60" fill="none" stroke="#4ca98d" stroke-width="1.9"/>
<path d="M622.70,742.60 V710.50 H639.10 V742.60" fill="none" stroke="#dcbd5f" stroke-width="1.9"/>
<path d="M650.30,742.60 V717.40 H666.70 V742.60" fill="none" stroke="#da715b" stroke-width="1.9"/>
<line x1="603.40" y1="658.70" x2="603.40" y2="672.00" stroke="#5f9c5c" stroke-width="1.0"/>
<line x1="599.40" y1="658.70" x2="607.40" y2="658.70" stroke="#5f9c5c" stroke-width="1.0"/>
<line x1="599.40" y1="672.00" x2="607.40" y2="672.00" stroke="#5f9c5c" stroke-width="1.0"/>
<line x1="630.90" y1="707.00" x2="630.90" y2="713.70" stroke="#f5c896" stroke-width="1.0"/>
<line x1="626.90" y1="707.00" x2="634.90" y2="707.00" stroke="#f5c896" stroke-width="1.0"/>
<line x1="626.90" y1="713.70" x2="634.90" y2="713.70" stroke="#f5c896" stroke-width="1.0"/>
<line x1="658.50" y1="711.30" x2="658.50" y2="722.10" stroke="#c0a070" stroke-width="1.0"/>
<line x1="654.50" y1="711.30" x2="662.50" y2="711.30" stroke="#c0a070" stroke-width="1.0"/>
<line x1="654.50" y1="722.10" x2="662.50" y2="722.10" stroke="#c0a070" stroke-width="1.0"/>
<circle cx="603.30" cy="657.90" r="2.05" fill="#1f6e14"/>
<circle cx="599.20" cy="670.80" r="2.05" fill="#1f6e14"/>
<circle cx="607.60" cy="667.70" r="2.05" fill="#1f6e14"/>
<rect x="624.70" y="706.10" width="4.00" height="4.00" fill="#f0983e"/>
<rect x="632.90" y="706.60" width="4.00" height="4.00" fill="#f0983e"/>
<rect x="628.90" y="712.20" width="4.00" height="4.00" fill="#f0983e"/>
<polygon points="654.50,718.20 656.50,721.90 652.50,721.90" fill="#9a6616"/>
<polygon points="662.50,717.80 664.50,721.50 660.50,721.50" fill="#9a6616"/>
<polygon points="658.50,709.00 660.50,712.70 656.50,712.70" fill="#9a6616"/>
<line x1="585.40" y1="622.40" x2="585.40" y2="743.40" stroke="#1e1e1e" stroke-width="1.6"/>
<line x1="579.80" y1="742.60" x2="677.80" y2="742.60" stroke="#1e1e1e" stroke-width="1.6"/>
<text x="572.68" y="745.60" font-size="9.3" font-weight="normal" fill="#262626" stroke="#262626" stroke-width="0.2" textLength="5.17" lengthAdjust="spacingAndGlyphs">0</text>
<line x1="579.80" y1="718.70" x2="585.40" y2="718.70" stroke="#1e1e1e" stroke-width="1.5"/>
<text x="557.17" y="721.70" font-size="9.3" font-weight="normal" fill="#262626" stroke="#262626" stroke-width="0.2" textLength="20.69" lengthAdjust="spacingAndGlyphs">1000</text>
<line x1="579.80" y1="694.80" x2="585.40" y2="694.80" stroke="#1e1e1e" stroke-width="1.5"/>
<text x="557.17" y="697.80" font-size="9.3" font-weight="normal" fill="#262626" stroke="#262626" stroke-width="0.2" textLength="20.69" lengthAdjust="spacingAndGlyphs">2000</text>
<line x1="579.80" y1="670.90" x2="585.40" y2="670.90" stroke="#1e1e1e" stroke-width="1.5"/>
<text x="557.17" y="673.90" font-size="9.3" font-weight="normal" fill="#262626" stroke="#262626" stroke-width="0.2" textLength="20.69" lengthAdjust="spacingAndGlyphs">3000</text>
<line x1="579.80" y1="647.00" x2="585.40" y2="647.00" stroke="#1e1e1e" stroke-width="1.5"/>
<text x="557.17" y="650.00" font-size="9.3" font-weight="normal" fill="#262626" stroke="#262626" stroke-width="0.2" textLength="20.69" lengthAdjust="spacingAndGlyphs">4000</text>
<line x1="579.80" y1="623.10" x2="585.40" y2="623.10" stroke="#1e1e1e" stroke-width="1.5"/>
<text x="557.17" y="626.10" font-size="9.3" font-weight="normal" fill="#262626" stroke="#262626" stroke-width="0.2" textLength="20.69" lengthAdjust="spacingAndGlyphs">5000</text>
<line x1="603.50" y1="742.60" x2="603.50" y2="748.10" stroke="#1e1e1e" stroke-width="1.5"/>
<line x1="630.90" y1="742.60" x2="630.90" y2="748.10" stroke="#1e1e1e" stroke-width="1.5"/>
<line x1="658.50" y1="742.60" x2="658.50" y2="748.10" stroke="#1e1e1e" stroke-width="1.5"/>
<text transform="translate(605.00,755.00) rotate(-43)" font-size="8.6" text-anchor="end" fill="#262626" stroke="#262626" stroke-width="0.2" textLength="25.23" lengthAdjust="spacingAndGlyphs">Control</text>
<text transform="translate(632.40,755.00) rotate(-43)" font-size="8.6" text-anchor="end" fill="#262626" stroke="#262626" stroke-width="0.2" textLength="46.10" lengthAdjust="spacingAndGlyphs">Lig3 siRNA-1</text>
<text transform="translate(660.00,755.00) rotate(-43)" font-size="8.6" text-anchor="end" fill="#262626" stroke="#262626" stroke-width="0.2" textLength="46.10" lengthAdjust="spacingAndGlyphs">Lig3 siRNA-2</text>
<line x1="603.30" y1="632.50" x2="658.50" y2="632.50" stroke="#4a4a4a" stroke-width="1.1"/>
<text x="612.74" y="627.60" font-size="7.55" font-weight="normal" fill="#2e2e2e" stroke="#2e2e2e" stroke-width="0.2" textLength="36.07" lengthAdjust="spacingAndGlyphs">P &lt; 0.0001</text>
<line x1="603.30" y1="652.40" x2="630.90" y2="652.40" stroke="#4a4a4a" stroke-width="1.1"/>
<text x="598.94" y="647.80" font-size="7.55" font-weight="normal" fill="#2e2e2e" stroke="#2e2e2e" stroke-width="0.2" textLength="36.07" lengthAdjust="spacingAndGlyphs">P &lt; 0.0001</text>
<text transform="translate(550.40,732.01) rotate(-90)" font-size="9.6" font-weight="normal" fill="#262626" stroke="#262626" stroke-width="0.2" textLength="67.13" lengthAdjust="spacingAndGlyphs">Copies of eccDNA</text>
<text transform="translate(545.50,664.78) rotate(-90)" font-size="5.8" font-weight="normal" fill="#262626" stroke="#262626" stroke-width="0.2" textLength="10.66" lengthAdjust="spacingAndGlyphs">fib-L</text>
<text transform="translate(550.40,654.59) rotate(-90)" font-size="9.3" font-weight="normal" fill="#262626" stroke="#262626" stroke-width="0.2" textLength="19.68" lengthAdjust="spacingAndGlyphs">(/μg)</text>
<text x="522.08" y="619.00" font-size="17.3" font-weight="normal" fill="#000" stroke="#000" stroke-width="0.2" textLength="11.54" lengthAdjust="spacingAndGlyphs">P</text>
<text x="173.69" y="191.90" font-size="14.6" font-weight="bold" fill="#000" stroke="#000" stroke-width="0.3" textLength="47.99" lengthAdjust="spacingAndGlyphs">XRCC1</text>
<text x="510.87" y="191.70" font-size="14.6" font-weight="bold" fill="#000" stroke="#000" stroke-width="0.3" textLength="32.81" lengthAdjust="spacingAndGlyphs">Fen1</text>
<text x="185.00" y="385.40" font-size="14.6" font-weight="bold" fill="#000" stroke="#000" stroke-width="0.3" textLength="31.65" lengthAdjust="spacingAndGlyphs">Polθ</text>
<text x="510.74" y="385.50" font-size="14.6" font-weight="bold" fill="#000" stroke="#000" stroke-width="0.3" textLength="33.87" lengthAdjust="spacingAndGlyphs">Lig 3</text>
<text x="173.69" y="596.90" font-size="14.6" font-weight="bold" fill="#000" stroke="#000" stroke-width="0.3" textLength="47.99" lengthAdjust="spacingAndGlyphs">XRCC1</text>
<text x="510.87" y="596.70" font-size="14.6" font-weight="bold" fill="#000" stroke="#000" stroke-width="0.3" textLength="32.81" lengthAdjust="spacingAndGlyphs">Fen1</text>
<text x="185.00" y="788.90" font-size="14.6" font-weight="bold" fill="#000" stroke="#000" stroke-width="0.3" textLength="31.65" lengthAdjust="spacingAndGlyphs">Polθ</text>
<text x="510.74" y="788.60" font-size="14.6" font-weight="bold" fill="#000" stroke="#000" stroke-width="0.3" textLength="33.87" lengthAdjust="spacingAndGlyphs">Lig 3</text>
</svg></body></html>
